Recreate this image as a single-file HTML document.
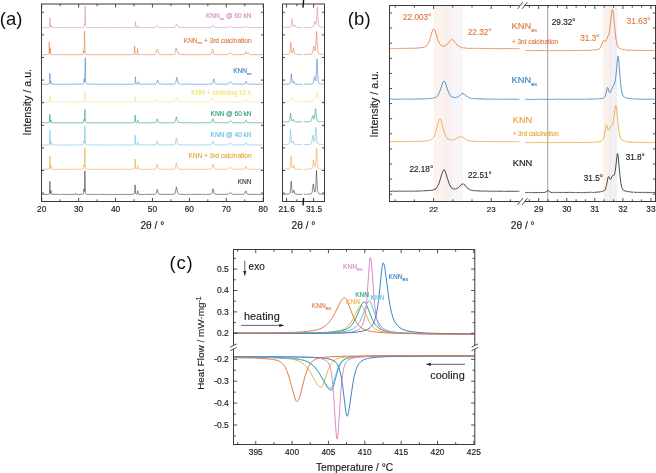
<!DOCTYPE html>
<html><head><meta charset="utf-8"><style>
html,body{margin:0;padding:0;background:#fff;}
svg{display:block;will-change:transform;}
text{font-family:"Liberation Sans",sans-serif;stroke:currentColor;stroke-width:0.15px;}
</style></head><body>
<svg width="656" height="473" viewBox="0 0 656 473" font-family="Liberation Sans, sans-serif">
<rect width="656" height="473" fill="#fff"/>
<polyline fill="none" stroke="#d98cc4" stroke-width="0.6" stroke-linejoin="round" points="41.9,27.6 44.8,27.7 47.3,27.5 47.5,27.6 48.9,27.5 49.4,27 49.6,25.4 50,17.9 50.3,26.2 50.5,27 50.7,26.8 51.1,25.1 51.4,27.2 51.9,27.5 55.8,27.7 56.8,27.5 60.3,27.7 64.5,27.5 65.5,27.7 67.8,27.5 67.9,27.7 69,27.6 69.6,27.7 69.8,27.5 71.9,27.6 72,27.5 72.6,27.7 73.7,27.5 74,27.7 74.1,27.5 76.9,27.7 79.8,27.5 80.1,27.6 83.2,27.4 83.6,27.2 83.9,26.7 84.3,24 84.5,25 84.7,24.1 85.2,6 85.7,25.7 86.1,26.8 87.2,27.5 93.1,27.7 96.6,27.5 96.7,27.7 97,27.6 98,27.7 99,27.5 101.6,27.7 105.1,27.6 105.3,27.7 106.2,27.5 109.2,27.7 109.9,27.6 110,27.7 111.3,27.5 118.5,27.7 118.9,27.5 121.8,27.7 122.3,27.5 123.1,27.7 124.4,27.5 127.4,27.5 127.5,27.7 128,27.5 128.8,27.7 129.5,27.5 130.4,27.7 132.1,27.5 132.5,27.6 133.6,27.4 134.1,27.6 134.8,27.4 135.1,26.7 135.6,21.6 136,26.7 136.2,27.3 137,27.5 137.9,27.3 138.3,25.6 138.8,27.3 139.6,27.6 141.4,27.6 141.7,27.5 143.7,27.7 147.8,27.5 149.5,27.7 155.3,27.5 156.1,27.1 157.3,25.5 158.5,27.2 159.8,27.6 160.3,27.4 161.2,27.6 161.3,27.5 161.4,27.6 163.5,27.5 163.6,27.6 163.8,27.5 164.9,27.6 167.1,27.5 167.4,27.7 168.7,27.5 169.4,27.6 169.9,27.5 170,27.6 173.1,27.6 174.8,27.3 175.2,27 176.6,24.1 176.8,24.2 178,26.9 178.8,27.4 180,27.4 180.2,27.6 182.6,27.4 182.8,27.6 186.3,27.5 187.7,27.7 188.1,27.5 189,27.7 189.2,27.5 191.3,27.7 191.8,27.5 192,27.7 192.5,27.5 194.4,27.7 194.7,27.5 194.8,27.7 194.9,27.5 195.1,27.6 195.9,27.7 196,27.5 197.2,27.7 197.8,27.5 201,27.7 202.8,27.5 203,27.7 203.1,27.5 203.8,27.6 204.5,27.5 204.8,27.7 206.7,27.5 207.1,27.6 208.9,27.4 209,27.6 210.6,27.5 210.7,27.4 211.4,27.4 211.7,27.2 211.8,27.3 212.3,26.8 213.3,25.1 213.5,25.2 214.4,26.9 215,27.3 216.9,27.6 217.8,27.5 218.6,27.6 220.7,27.5 220.9,27.7 222.2,27.5 225.6,27.6 228.1,27.5 228.7,27.4 229.8,26.5 230.5,26.3 231.6,27.1 232.8,27.6 243.6,27.5 244.6,27.4 245.8,26.1 246.1,26.2 247,27.2 248.9,27.6 249.2,27.5 250.6,27.7 254,27.5 262.3,27.6 262.6,27.5 262.9,27.6" />
<text x="251.5" y="18.2" font-size="6.5" fill="#d98cc4" color="#d98cc4" text-anchor="end" >KNN<tspan font-size="4.4" dy="1.8">ex</tspan><tspan dy="-1.8"> @ 60 kN</tspan></text>
<polyline fill="none" stroke="#e07f45" stroke-width="0.6" stroke-linejoin="round" points="41.9,54.7 47.1,54.7 48.3,54.5 48.8,54 49,52.5 49.3,42 49.6,53.2 49.9,53.8 50.1,52.9 50.4,47.9 50.7,53.6 51,54.3 51.4,54.6 52.2,54.7 52.3,54.6 52.5,54.7 52.8,54.6 54.3,54.7 56.1,54.6 56.3,54.8 56.7,54.6 58.7,54.7 59.7,54.6 59.8,54.8 59.9,54.6 60.4,54.8 62.4,54.6 64.5,54.8 64.7,54.6 64.8,54.7 65.6,54.6 65.7,54.8 66.7,54.8 66.9,54.6 68,54.8 68.6,54.6 71.2,54.8 71.6,54.6 74.1,54.8 75.1,54.6 76.7,54.8 77.1,54.6 81.3,54.7 81.6,54.5 82.1,54.7 82.8,54.3 83,53.8 83.4,50.2 83.7,52.8 83.9,52.9 84,52.7 84.1,51.8 84.5,31.1 85,52 85.4,54 85.7,54.4 86.5,54.6 88.2,54.7 88.4,54.6 88.8,54.8 89.2,54.6 91.7,54.8 92.8,54.6 94.6,54.8 96.9,54.6 97.1,54.8 97.3,54.6 98,54.8 98.4,54.6 98.6,54.8 99.7,54.6 100.6,54.8 100.7,54.6 101.1,54.8 105.5,54.6 106.1,54.8 106.7,54.6 111.9,54.8 112.2,54.6 112.8,54.8 112.9,54.6 113.8,54.8 115.5,54.6 116.2,54.8 117,54.6 118.2,54.8 119.1,54.8 119.2,54.6 119.7,54.8 121.3,54.6 125.7,54.8 131.7,54.6 131.9,54.8 133.1,54.5 133.5,54.6 133.9,54.3 134.3,53.6 134.7,45.9 135.2,53.7 135.5,54.3 136.2,54.5 136.7,54.4 137,54 137.5,48.7 137.9,53.7 138.1,54.4 138.7,54.6 140.7,54.7 140.9,54.6 141,54.8 141.4,54.6 141.6,54.8 141.7,54.6 143.4,54.7 145.2,54.6 147.1,54.8 150.2,54.6 150.9,54.7 154.7,54.5 155.6,54 156,53.2 157,49.1 157.4,50.1 157.8,50.5 158.2,51.2 158.8,53.5 159.2,54.1 159.6,54.4 161.7,54.6 162.5,54.5 162.9,54.7 163.3,54.6 163.8,54.7 166.3,54.6 166.6,54.7 167.7,54.6 168.3,54.7 172.9,54.6 174.2,54.3 174.9,53.6 176.1,47.9 176.9,51.1 177.1,51.2 177.4,51 177.7,51.2 178.7,54 179.3,54.4 180.4,54.6 190.3,54.8 190.4,54.6 193.3,54.7 194.1,54.6 196.6,54.8 199.9,54.6 200,54.8 200.7,54.6 201.4,54.8 201.5,54.6 202.3,54.6 202.4,54.8 202.6,54.6 206.9,54.7 210.2,54.5 211.2,54 211.7,53.2 212.4,49.8 212.7,49.4 213.9,53.8 214.3,54.3 215.5,54.6 217.4,54.7 217.6,54.5 217.9,54.7 218.6,54.5 218.9,54.7 221.1,54.6 221.2,54.8 222.1,54.6 222.4,54.7 224.3,54.6 224.4,54.8 224.5,54.6 225.8,54.5 226.9,54.6 228.2,54.4 229.9,52.7 230.4,52.9 231.6,54.2 232.8,54.6 234.4,54.7 235.4,54.6 235.5,54.7 236.4,54.6 236.7,54.8 237.4,54.6 238.7,54.6 238.9,54.8 239.2,54.6 243.4,54.6 244.6,54.2 245.9,51.6 246.8,53.6 247.1,54 247.4,54 248.4,52.6 249.5,54.2 250.5,54.6 256.3,54.8 256.4,54.6 257,54.8 257.2,54.6 258.8,54.8 259,54.7 262.9,54.6" />
<text x="251.5" y="42.5" font-size="6.5" fill="#e07f45" color="#e07f45" text-anchor="end" >KNN<tspan font-size="4.4" dy="1.8">ex</tspan><tspan dy="-1.8"> + 3rd calcination</tspan></text>
<polyline fill="none" stroke="#3f86c6" stroke-width="0.6" stroke-linejoin="round" points="41.9,84.2 48.1,84.2 49.2,83.8 49.5,82.3 49.9,73.3 50.2,83 50.4,83.6 50.6,83.3 51,81.3 51.3,83.8 51.7,84.1 56.3,84.3 56.9,84.1 57.3,84.3 57.9,84.1 58.1,84.3 59.7,84.2 59.8,84.3 61,84.1 61.2,84.3 61.4,84.1 67.2,84.3 67.5,84.1 68.4,84.3 68.8,84.2 71.5,84.1 79.7,84.2 82.8,84.1 83.3,83.9 83.6,83.5 83.7,83.1 84.2,78.8 84.5,82 84.6,82.1 84.7,81.6 85.3,57.9 85.7,81.6 86.2,83.5 87.2,84.1 89.1,84.2 89.4,84.1 89.7,84.2 92.5,84.1 93.1,84.3 93.9,84.1 94.3,84.3 97.3,84.2 97.4,84.3 97.6,84.1 98.8,84.3 99.1,84.1 99.7,84.3 100,84.1 100.4,84.3 101.7,84.1 102.1,84.3 102.4,84.2 103.9,84.3 104.7,84.1 104.9,84.3 105.5,84.1 105.8,84.3 107.3,84.1 108.3,84.3 108.7,84.1 109.4,84.3 111.1,84.1 111.2,84.3 111.4,84.1 111.7,84.3 115,84.2 115.3,84 115.9,84.3 119.3,84.1 121.4,84.3 127.7,84.1 127.8,84.3 130,84.1 130.2,84.3 130.7,84.1 132,84.1 132.3,84.3 133.5,84.1 133.6,84.2 134.7,83.9 135,83.1 135.5,76.8 136,83.6 136.6,84 137,84 137.5,84.2 138,83.7 138.5,81.7 138.9,83.9 139.8,84.2 140.2,84 140.5,84.2 141.7,84.2 141.8,84.3 142.8,84.1 143.3,84.3 145.2,84.1 147.3,84.3 148,84.1 148.3,84.3 148.4,84.1 149.2,84.1 149.4,84.3 149.9,84.1 152.9,84.2 155.6,84 156.5,83.4 157.6,80.2 158.6,83.2 158.9,83.7 159.6,84 163.5,84.1 163.6,84.3 164.2,84.1 166.7,84.3 166.8,84.1 167,84.3 167.8,84.1 168.7,84.2 173.8,84.1 174.9,83.8 175.7,82.7 176.8,77.2 178.1,83.1 178.4,83.6 179.2,84 179.9,83.9 180.3,84.1 180.9,84 181.1,84.2 184.3,84.1 184.4,84.2 186.9,84.1 188.7,84.2 189.3,84.1 190.3,84.3 190.6,84.1 192.8,84.3 194.1,84.1 194.3,84.3 194.8,84.1 195.2,84.3 196.7,84.1 199.1,84.3 199.3,84.1 200.9,84.3 201.3,84.1 203.6,84.3 204.8,84.1 204.9,84.3 206.2,84.1 207.6,84.3 207.8,84.1 208.5,84.2 209,84.1 209.3,84.2 209.9,84 210.1,84.1 210.9,84.1 212,83.8 212.6,83.2 213.8,78.8 214.5,82.2 215,83.3 215.5,83.8 216.4,84.1 216.5,84 219,84.2 219.1,84 220.6,84.2 223.6,84.1 224.4,84.2 227.7,84 228.9,83.4 229.9,82 230.4,81.7 230.7,81.9 231.8,83.5 232.9,84 238.6,84.2 239.7,84.1 242.5,84.2 242.7,84.1 244.1,84.1 244.8,83.9 245.2,83.4 246.2,81.2 247.1,83.3 247.5,83.8 248.3,84.1 250.6,84.1 250.8,84.3 251.1,84.1 251.6,84.2 252.3,84.1 252.4,84.2 253.4,84.3 254.1,84.1 255.9,84.3 259.3,84.1 259.8,84.3 261.1,84.2 261.3,84.3 261.8,84.1 262.9,84.2" />
<text x="251.5" y="73.2" font-size="6.5" fill="#3f86c6" color="#3f86c6" text-anchor="end" >KNN<tspan font-size="4.4" dy="1.8">ex</tspan></text>
<polyline fill="none" stroke="#f3e27a" stroke-width="0.6" stroke-linejoin="round" points="41.9,102 48,102 49,101.8 49.4,100.6 49.9,96.4 50.4,101.3 50.7,101.8 51.6,102 53.4,101.9 53.5,102 55.2,101.9 55.7,102.1 56.6,101.9 58.7,102.1 59.3,101.9 59.8,102 59.9,101.9 60,102 61,101.9 63.4,102.1 64.9,101.9 68.8,102.1 69.6,102.1 69.7,101.9 70.9,102.1 71.6,101.9 72.9,102.1 73,101.9 74.3,102.1 75.1,101.9 75.2,102.1 83.2,101.9 84,101.3 84.3,100 84.9,91.7 85.4,99.3 85.7,101.2 86.2,101.7 86.8,101.9 88.3,102 99.7,101.9 100.8,102.1 102.1,101.9 102.9,102.1 105.3,102 107,102.1 108.9,101.9 109,102 111.2,101.9 111.4,102.1 111.9,101.9 113.5,102.1 119.1,101.9 119.2,102.1 119.7,101.8 120.8,102.1 123.2,102 123.4,101.9 123.5,102.1 123.8,102 124.1,102.1 124.2,101.9 126.7,101.9 126.8,102.1 126.9,101.9 129,102.1 133.3,101.9 134.3,101.6 134.5,101.1 135.1,96.6 135.8,101.3 136.2,101.8 137.9,102 138,101.9 138.3,102 142.3,102.1 144.8,101.9 146.1,102.1 147.2,101.9 148,102 149.5,101.9 149.9,102 153.9,101.9 155.2,101.4 156.8,98.9 158.5,101.3 159.9,101.8 162.4,102 162.9,101.9 164,102 165.5,101.9 165.6,102 166,101.9 167,102 172.6,101.8 173.8,101.7 174.6,101.2 175.3,99.9 176.2,97.4 176.6,97.2 177.7,100.1 178.4,101.3 179.7,101.8 182.5,102 182.8,101.9 184.8,102.1 185.4,101.9 187.1,102 187.6,101.9 188.4,102.1 189.7,101.9 190.8,102 192,101.9 192.2,102.1 193.4,101.9 195.2,102.1 195.4,101.9 197.5,102.1 197.8,101.9 199.1,102.1 199.6,101.9 203,102 203.6,101.9 205.5,102 209.8,101.8 210.7,101.6 211.3,101.1 212.6,98.5 213,98 213.2,98.1 214.1,100.2 214.8,101.2 215.8,101.8 217.1,101.9 219.7,101.9 220.5,102 221.3,101.9 222.7,102 222.9,101.9 224,102 224.1,101.9 228.1,101.9 228.9,101.7 230.4,100.9 231.4,101.5 232.6,101.9 242.9,101.9 244.2,101.6 245.8,99.9 246.1,100 247.5,101.6 248.1,101.8 250.1,101.9 250.2,102 250.5,101.9 250.6,102 252.2,101.9 252.4,102.1 253.1,101.9 256.1,102.1 257.1,101.9 262.9,101.9" />
<text x="251.5" y="95.3" font-size="6.5" fill="#f3e27a" color="#f3e27a" text-anchor="end" >KNN + sintering 10 h</text>
<polyline fill="none" stroke="#2e9c78" stroke-width="0.6" stroke-linejoin="round" points="41.9,122.8 43.9,122.7 44,122.9 44.4,122.7 44.5,122.9 45.9,122.7 46.8,122.9 47.9,122.7 48.2,122.8 49.1,122.5 49.4,121.8 49.5,120.8 49.9,114.2 50.2,121.5 50.3,122 50.5,122.1 50.6,121.9 51,119.8 51.3,122.3 51.5,122.6 51.9,122.7 59.4,122.8 59.6,122.7 60.9,122.9 61.4,122.7 64.8,122.9 66.2,122.7 66.9,122.9 67.8,122.7 68.7,122.9 70.1,122.7 70.2,122.9 73.2,122.7 74.1,122.9 75.4,122.7 75.7,122.9 77.3,122.9 77.4,122.7 78,122.8 80.8,122.7 80.9,122.9 83.1,122.6 83.5,122.2 84,119.3 84.2,120.6 84.3,120.9 84.4,120.8 84.9,109.5 85.3,120.4 85.5,121.8 85.6,122.1 86.2,122.6 88.3,122.9 88.5,122.7 88.6,122.9 88.7,122.7 90.5,122.9 90.9,122.7 91.4,122.9 93.6,122.7 93.8,122.8 98,122.7 100.5,122.9 101.5,122.7 102.7,122.9 104.8,122.8 104.9,122.9 105.1,122.7 105.7,122.9 106.7,122.8 106.9,122.7 107.9,122.7 108,122.9 109.9,122.8 110.3,122.9 111,122.7 112.4,122.9 113.8,122.7 114,122.9 116.2,122.7 118.7,122.9 119.1,122.7 119.9,122.9 120.3,122.8 124.5,122.8 124.6,122.7 125.1,122.9 125.3,122.7 125.4,122.9 126.3,122.8 126.5,122.7 126.9,122.8 129.8,122.7 130,122.8 131.5,122.8 131.7,122.9 132.5,122.7 134,122.7 134.6,122 134.7,121.4 135.1,115 135.6,121.9 136,122.5 136.6,122.7 137,122.6 137.2,122.3 137.7,120.2 138.1,122.4 138.5,122.7 139.8,122.9 140.2,122.7 143,122.8 143.1,122.7 144.7,122.9 146.3,122.7 146.4,122.9 147.7,122.7 147.8,122.9 149.4,122.7 150.3,122.9 150.4,122.7 155,122.7 156.1,122.2 157.3,118.8 158.4,122.2 159.4,122.6 160.7,122.8 161.1,122.6 161.6,122.8 162.6,122.8 162.7,122.7 168.5,122.9 169.7,122.7 171.4,122.8 174,122.6 174.6,122.4 175.2,121.8 176.4,116.8 177.2,120.3 177.8,121.9 178.7,122.5 180.8,122.6 180.9,122.8 181.4,122.7 182,122.7 182.1,122.8 185.6,122.7 187.3,122.9 187.4,122.7 188.1,122.9 189.1,122.7 190.7,122.8 192.8,122.7 193.4,122.9 193.8,122.7 194.7,122.9 195.8,122.7 196.7,122.9 196.8,122.7 197.7,122.9 197.9,122.7 199.3,122.9 202.3,122.7 202.5,122.9 203.8,122.7 205.1,122.7 205.4,122.9 206.3,122.7 208,122.7 208.1,122.8 208.3,122.7 208.5,122.8 210.9,122.6 211.9,122 212.9,118.8 213.2,119.1 214.1,121.9 214.5,122.4 215.3,122.5 215.4,122.7 218.8,122.7 219,122.8 220.3,122.7 220.4,122.8 221.4,122.8 222.7,122.7 223.2,122.8 223.7,122.7 224,122.8 227.2,122.7 228.8,122.3 230.2,120.8 230.6,120.8 232,122.4 233.1,122.7 243.4,122.8 244.3,122.6 244.8,122.2 245.7,120.4 245.9,120.3 247.2,122.6 247.4,122.5 248.4,122.8 249.9,122.7 251,122.9 251.3,122.7 251.9,122.8 252.2,122.7 252.4,122.9 252.9,122.6 253.6,122.9 253.7,122.7 256.4,122.7 256.5,122.8 257,122.7 257.2,122.9 257.3,122.8 257.8,122.9 258.8,122.7 259.1,122.9 259.2,122.7 259.8,122.9 260.1,122.7 261.2,122.9 261.3,122.7 261.4,122.9 262.9,122.8" />
<text x="251.5" y="116.1" font-size="6.5" fill="#2e9c78" color="#2e9c78" text-anchor="end" >KNN @ 60 kN</text>
<polyline fill="none" stroke="#6cc0e8" stroke-width="0.6" stroke-linejoin="round" points="41.9,145 48,145 48.8,144.9 49.2,144.5 49.5,142.5 49.9,130.1 50.2,143.3 50.4,144.2 50.6,143.8 51,141 51.2,143.8 51.6,144.8 52.5,145 55.8,144.9 56.3,145.1 56.7,144.9 61.5,145.1 62.6,144.9 62.7,145.1 64.6,144.9 65.7,145.1 68.2,144.9 69.1,145.1 72.5,144.9 72.9,145.1 73.3,144.9 73.6,145.1 78.7,144.9 79.3,145 80.5,144.9 80.6,145 82,145 82.1,144.8 82.5,144.9 83.1,144.7 83.4,144.4 83.6,143.6 84,140.5 84.3,142.8 84.5,141.4 84.9,126 85.4,143.4 85.6,144.2 86,144.6 87.3,144.9 88.5,145 88.7,144.8 89.3,145 89.6,144.9 90.1,145.1 90.5,144.9 93.8,145.1 94.3,144.9 94.7,145.1 95.5,144.9 96.5,145 96.6,144.8 97.6,145.1 98.7,144.9 101.2,145.1 101.7,144.9 104.1,145.1 104.2,144.9 104.7,145.1 104.9,144.9 106.3,145.1 106.9,144.9 107.4,145.1 111,144.9 111.2,145.1 113.4,144.9 114.2,145 114.6,144.9 115.1,145.1 115.8,144.9 116.1,145.1 117.3,145 117.5,144.9 118.6,145.1 119.9,144.9 120.4,145.1 121.7,144.9 130.3,145.1 133.7,144.9 134.4,144.5 134.7,143.3 135.1,135.4 135.6,143.8 135.7,144.4 136,144.7 136.5,144.8 137,144.7 137.2,144.5 137.7,142 138.1,144.5 138.2,144.7 138.7,144.9 140.7,145.1 140.8,144.9 142.4,145 146.9,144.9 147.5,145.1 148.8,144.9 149.4,145.1 149.8,144.9 150.1,145 152.2,144.9 152.6,145 155.4,144.8 156.1,144.4 156.4,143.8 157.3,140.9 158.3,144.1 158.6,144.6 159.4,144.9 162,145 164.8,144.9 165,145 167.3,144.9 167.6,145.1 167.9,144.9 168.7,145.1 169,144.9 170.1,145 170.2,144.8 171.4,145 173,144.9 174.7,144.5 175.2,143.8 176.4,138.1 176.7,138.6 177.3,142.7 177.8,144 178.4,144.6 180.3,144.9 185.3,145 185.5,144.9 186.2,145 187.2,144.9 188,145.1 188.1,144.9 189.4,145.1 190,144.9 193.5,145.1 195.6,144.9 195.8,145.1 196.7,144.9 200.9,145 202.5,144.9 203.6,145.1 203.9,144.9 205.5,145.1 205.6,144.9 205.9,145 210.7,144.9 211.6,144.5 211.9,144.1 213,141 214.1,144.1 214.7,144.7 215.9,144.9 216.1,144.8 217,145 217.6,144.9 217.9,145 219.9,145 220,144.9 220.1,145 221.2,144.9 221.7,145 224.5,144.9 224.7,145 227.5,144.9 227.6,144.8 228.5,144.7 230.3,143 230.9,143.4 231.6,144.3 232.7,144.8 237.8,145 238.8,144.9 238.9,145 239.6,145.1 239.9,144.9 241.2,145.1 241.3,144.9 242.1,144.9 242.3,145 242.6,144.9 243.1,145 243.2,144.9 244.1,144.8 244.7,144.6 245.7,142.6 245.9,142.5 247,144.5 247.3,144.7 248.2,144.9 262.9,145" />
<text x="251.5" y="136.60000000000002" font-size="6.5" fill="#6cc0e8" color="#6cc0e8" text-anchor="end" >KNN @ 40 kN</text>
<polyline fill="none" stroke="#eaa83a" stroke-width="0.6" stroke-linejoin="round" points="41.9,169.3 43.9,169.3 44.3,169.2 46.1,169.4 46.2,169.2 48.4,169.2 49.1,169 49.4,168.2 49.5,167 49.9,156.3 50.2,167.8 50.4,168.6 50.5,168.5 51,165.3 51.3,168.7 51.7,169.2 54.4,169.2 54.6,169.4 57.5,169.2 57.6,169.4 57.8,169.2 59.2,169.4 59.5,169.2 62.9,169.4 65,169.2 65.5,169.4 65.6,169.2 65.9,169.4 66,169.2 71.3,169.4 72.3,169.2 73.7,169.3 73.9,169.2 74.4,169.4 74.6,169.2 76.4,169.4 78.5,169.2 80.8,169.3 83.1,169.1 83.4,168.8 83.6,168 84,164.7 84.3,166.8 84.4,166.6 84.9,147.8 85.3,166.2 85.7,168.6 86.1,169 86.8,169.2 88.8,169.3 90.6,169.2 90.8,169.4 95,169.2 95.6,169.4 95.8,169.2 96,169.3 98.8,169.2 100.1,169.4 102.1,169.3 102.5,169.2 103.9,169.4 105.5,169.2 110.4,169.4 112,169.2 113.3,169.4 113.7,169.2 115.9,169.4 123.2,169.2 123.5,169.4 124.3,169.2 124.4,169.4 124.5,169.3 124.7,169.4 125.1,169.2 127.8,169.3 129.5,169.2 130.4,169.3 134,169.1 134.6,168.3 134.7,167.5 135.1,159 135.6,167.9 135.8,168.7 136.5,169.1 136.9,169.1 137.2,168.7 137.7,165.8 138.1,168.8 139,169.3 140.9,169.2 143.2,169.4 147.5,169.2 148.8,169.4 149.4,169.2 150.6,169.4 151.2,169.2 151.4,169.3 153.1,169.3 154.8,169.1 155.8,168.8 156.1,168.4 157.3,164 158.3,168.2 158.6,168.7 159.2,169 163.3,169.3 166.4,169.3 166.9,169.2 168.1,169.3 168.6,169.2 171.1,169.3 173.8,169.1 174.8,168.7 175.2,168.1 176.4,162.7 177.6,167.9 178.2,168.8 179.5,169.2 184.4,169.4 184.5,169.2 185.4,169.3 189,169.2 190.4,169.2 190.5,169.4 190.8,169.2 192.7,169.4 194.4,169.2 194.8,169.3 195.7,169.2 195.9,169.4 200,169.2 201,169.4 201.3,169.2 202.1,169.4 202.3,169.2 202.9,169.4 205.4,169.2 205.6,169.4 209.3,169.2 209.6,169.1 210.2,169.2 211.3,168.8 211.9,168.2 213,164 214.1,168.1 214.9,169 215.5,169.1 219.3,169.4 219.6,169.2 219.7,169.3 221.2,169.2 221.7,169.4 222.2,169.2 227.6,169.2 228.6,168.9 230.4,167.2 231.9,168.8 233.5,169.2 243.1,169.2 244,169.1 244.7,168.7 245.7,166.5 245.9,166.3 246.9,168.6 248,169.2 262.9,169.3" />
<text x="251.5" y="157.9" font-size="6.5" fill="#eaa83a" color="#eaa83a" text-anchor="end" >KNN + 3rd calcination</text>
<polyline fill="none" stroke="#3c3c3c" stroke-width="0.6" stroke-linejoin="round" points="41.9,194.3 42.4,194.4 44.3,194.3 46.2,194.5 48.6,194.3 49.2,193.9 49.5,192.1 49.9,181.4 50.2,193 50.3,193.5 50.5,193.7 51,190.4 51.3,193.8 51.9,194.3 58.7,194.3 59.7,194.5 60.4,194.3 60.7,194.5 61.3,194.4 61.6,194.5 61.7,194.3 62.7,194.4 64.4,194.3 64.7,194.5 68.2,194.5 69,194.3 71.5,194.5 74.7,194.3 74.8,194.4 75.3,194.1 75.7,193.4 76,194.1 76.4,194.4 79.1,194.5 81.1,194.3 81.4,194.4 83.2,194 83.6,192.7 84,188.8 84.3,191.5 84.5,189.9 84.9,170.9 85.4,192.4 85.7,193.6 86.1,194 87,194.3 90.6,194.5 91.8,194.3 92.3,194.5 94,194.3 94.7,194.5 94.9,194.3 96.8,194.5 97,194.3 97.4,194.5 97.7,194.3 99.7,194.5 100.4,194.3 101.1,194.5 103.1,194.3 103.2,194.5 104.1,194.3 104.2,194.5 105.8,194.4 106.7,194.5 109.9,194.3 110.7,194.5 110.8,194.3 111.3,194.5 111.4,194.3 111.8,194.5 113.5,194.5 117.2,194.3 117.3,194.5 118,194.3 120.2,194.5 120.4,194.3 121.6,194.5 124,194.3 124.1,194.5 124.4,194.3 126.2,194.5 133.6,194.3 134.4,193.9 134.6,193.4 135.1,184.9 135.6,193.2 135.8,193.8 136.6,194.2 137,194.1 137.2,193.8 137.7,190.8 138.1,193.9 138.7,194.4 144.4,194.5 145.5,194.3 146.7,194.5 146.8,194.3 150.1,194.4 151.5,194.3 152.1,194.5 152.6,194.2 152.9,194.4 154.1,194.4 154.3,194.2 155.3,194.2 156.1,193.7 156.5,192.5 157.2,189.4 157.5,190 158.1,192.7 158.4,193.5 158.9,194.1 160.5,194.3 164.3,194.5 167.6,194.3 171.5,194.4 173.1,194.1 173.2,194.3 174.7,193.8 175.2,193 176.4,186.9 177.7,193.1 178.4,194 178.6,193.9 179.3,194.3 179.5,194.1 180.2,194.3 180.5,194.2 180.8,194.3 185.7,194.5 185.9,194.3 186.5,194.4 186.6,194.3 186.7,194.4 187.2,194.3 187.3,194.5 188.5,194.3 189,194.5 189.4,194.3 189.5,194.4 190.2,194.3 190.3,194.5 191.1,194.3 191.3,194.4 192.8,194.3 195.1,194.4 195.3,194.3 201.4,194.5 202.6,194.3 204,194.5 204.7,194.3 206.3,194.5 206.5,194.3 206.9,194.4 210.7,194.2 211.3,194 211.8,193.4 213,188.7 214.2,193.4 214.8,194 216.5,194.3 218.3,194.3 220.3,194.4 220.5,194.2 220.6,194.4 221.6,194.4 227.9,194.2 228.7,193.9 230.3,192.3 231.7,193.7 232.6,194.2 233.9,194.4 234.4,194.2 234.6,194.4 234.7,194.3 236.5,194.4 237,194.3 238,194.4 238.4,194.2 238.5,194.4 238.7,194.3 239.8,194.5 240.6,194.2 240.9,194.4 243.3,194.3 244.1,194.1 244.7,193.7 245.7,191.1 245.9,190.9 247,193.7 248.1,194.3 248.3,194.2 249.5,194.4 249.7,194.2 249.8,194.4 250.4,194.4 257.6,194.3 257.7,194.5 258.5,194.3 258.7,194.5 259.3,194.3 259.5,194.5 260.6,194.3 260.7,194.5 261.1,194.4 262.9,194.4" />
<text x="251.5" y="184.20000000000002" font-size="6.5" fill="#3c3c3c" color="#3c3c3c" text-anchor="end" >KNN</text>
<rect x="41.5" y="4.0" width="222.0" height="197.5" fill="none" stroke="#3a3a3a" stroke-width="1"/>
<line x1="41.70" y1="201.5" x2="41.70" y2="197.9" stroke="#3a3a3a" stroke-width="0.9"/>
<line x1="41.70" y1="4.0" x2="41.70" y2="7.6" stroke="#3a3a3a" stroke-width="0.9"/>
<text x="41.70" y="212.4" font-size="8.3" fill="#1a1a1a" color="#1a1a1a" text-anchor="middle" >20</text>
<line x1="60.16" y1="201.5" x2="60.16" y2="199.3" stroke="#3a3a3a" stroke-width="0.9"/>
<line x1="60.16" y1="4.0" x2="60.16" y2="6.2" stroke="#3a3a3a" stroke-width="0.9"/>
<line x1="78.62" y1="201.5" x2="78.62" y2="197.9" stroke="#3a3a3a" stroke-width="0.9"/>
<line x1="78.62" y1="4.0" x2="78.62" y2="7.6" stroke="#3a3a3a" stroke-width="0.9"/>
<text x="78.62" y="212.4" font-size="8.3" fill="#1a1a1a" color="#1a1a1a" text-anchor="middle" >30</text>
<line x1="97.08" y1="201.5" x2="97.08" y2="199.3" stroke="#3a3a3a" stroke-width="0.9"/>
<line x1="97.08" y1="4.0" x2="97.08" y2="6.2" stroke="#3a3a3a" stroke-width="0.9"/>
<line x1="115.53" y1="201.5" x2="115.53" y2="197.9" stroke="#3a3a3a" stroke-width="0.9"/>
<line x1="115.53" y1="4.0" x2="115.53" y2="7.6" stroke="#3a3a3a" stroke-width="0.9"/>
<text x="115.53" y="212.4" font-size="8.3" fill="#1a1a1a" color="#1a1a1a" text-anchor="middle" >40</text>
<line x1="133.99" y1="201.5" x2="133.99" y2="199.3" stroke="#3a3a3a" stroke-width="0.9"/>
<line x1="133.99" y1="4.0" x2="133.99" y2="6.2" stroke="#3a3a3a" stroke-width="0.9"/>
<line x1="152.45" y1="201.5" x2="152.45" y2="197.9" stroke="#3a3a3a" stroke-width="0.9"/>
<line x1="152.45" y1="4.0" x2="152.45" y2="7.6" stroke="#3a3a3a" stroke-width="0.9"/>
<text x="152.45" y="212.4" font-size="8.3" fill="#1a1a1a" color="#1a1a1a" text-anchor="middle" >50</text>
<line x1="170.91" y1="201.5" x2="170.91" y2="199.3" stroke="#3a3a3a" stroke-width="0.9"/>
<line x1="170.91" y1="4.0" x2="170.91" y2="6.2" stroke="#3a3a3a" stroke-width="0.9"/>
<line x1="189.37" y1="201.5" x2="189.37" y2="197.9" stroke="#3a3a3a" stroke-width="0.9"/>
<line x1="189.37" y1="4.0" x2="189.37" y2="7.6" stroke="#3a3a3a" stroke-width="0.9"/>
<text x="189.37" y="212.4" font-size="8.3" fill="#1a1a1a" color="#1a1a1a" text-anchor="middle" >60</text>
<line x1="207.82" y1="201.5" x2="207.82" y2="199.3" stroke="#3a3a3a" stroke-width="0.9"/>
<line x1="207.82" y1="4.0" x2="207.82" y2="6.2" stroke="#3a3a3a" stroke-width="0.9"/>
<line x1="226.28" y1="201.5" x2="226.28" y2="197.9" stroke="#3a3a3a" stroke-width="0.9"/>
<line x1="226.28" y1="4.0" x2="226.28" y2="7.6" stroke="#3a3a3a" stroke-width="0.9"/>
<text x="226.28" y="212.4" font-size="8.3" fill="#1a1a1a" color="#1a1a1a" text-anchor="middle" >70</text>
<line x1="244.74" y1="201.5" x2="244.74" y2="199.3" stroke="#3a3a3a" stroke-width="0.9"/>
<line x1="244.74" y1="4.0" x2="244.74" y2="6.2" stroke="#3a3a3a" stroke-width="0.9"/>
<line x1="263.20" y1="201.5" x2="263.20" y2="197.9" stroke="#3a3a3a" stroke-width="0.9"/>
<line x1="263.20" y1="4.0" x2="263.20" y2="7.6" stroke="#3a3a3a" stroke-width="0.9"/>
<text x="263.20" y="212.4" font-size="8.3" fill="#1a1a1a" color="#1a1a1a" text-anchor="middle" >80</text>
<line x1="41.5" y1="12.30" x2="44.1" y2="12.30" stroke="#3a3a3a" stroke-width="0.9"/>
<line x1="263.5" y1="12.30" x2="260.9" y2="12.30" stroke="#3a3a3a" stroke-width="0.9"/>
<line x1="41.5" y1="34.90" x2="44.1" y2="34.90" stroke="#3a3a3a" stroke-width="0.9"/>
<line x1="263.5" y1="34.90" x2="260.9" y2="34.90" stroke="#3a3a3a" stroke-width="0.9"/>
<line x1="41.5" y1="57.50" x2="44.1" y2="57.50" stroke="#3a3a3a" stroke-width="0.9"/>
<line x1="263.5" y1="57.50" x2="260.9" y2="57.50" stroke="#3a3a3a" stroke-width="0.9"/>
<line x1="41.5" y1="80.10" x2="44.1" y2="80.10" stroke="#3a3a3a" stroke-width="0.9"/>
<line x1="263.5" y1="80.10" x2="260.9" y2="80.10" stroke="#3a3a3a" stroke-width="0.9"/>
<line x1="41.5" y1="102.70" x2="44.1" y2="102.70" stroke="#3a3a3a" stroke-width="0.9"/>
<line x1="263.5" y1="102.70" x2="260.9" y2="102.70" stroke="#3a3a3a" stroke-width="0.9"/>
<line x1="41.5" y1="125.30" x2="44.1" y2="125.30" stroke="#3a3a3a" stroke-width="0.9"/>
<line x1="263.5" y1="125.30" x2="260.9" y2="125.30" stroke="#3a3a3a" stroke-width="0.9"/>
<line x1="41.5" y1="147.90" x2="44.1" y2="147.90" stroke="#3a3a3a" stroke-width="0.9"/>
<line x1="263.5" y1="147.90" x2="260.9" y2="147.90" stroke="#3a3a3a" stroke-width="0.9"/>
<line x1="41.5" y1="170.50" x2="44.1" y2="170.50" stroke="#3a3a3a" stroke-width="0.9"/>
<line x1="263.5" y1="170.50" x2="260.9" y2="170.50" stroke="#3a3a3a" stroke-width="0.9"/>
<line x1="41.5" y1="193.10" x2="44.1" y2="193.10" stroke="#3a3a3a" stroke-width="0.9"/>
<line x1="263.5" y1="193.10" x2="260.9" y2="193.10" stroke="#3a3a3a" stroke-width="0.9"/>
<text x="152.4" y="228.9" font-size="10.2" fill="#1a1a1a" color="#1a1a1a" text-anchor="middle" >2θ / °</text>
<text x="0" y="0" font-size="10.7" fill="#1a1a1a" color="#1a1a1a" text-anchor="middle" transform="translate(30.6,102.2) rotate(-90)">Intensity / a.u.</text>
<text x="-0.3" y="24.5" font-size="18.5" fill="#111" color="#111" text-anchor="start" letter-spacing="0.1" style="stroke:none">(a)</text>
<rect x="282.5" y="4.0" width="42.0" height="197.5" fill="none" stroke="#3a3a3a" stroke-width="1"/>
<polyline fill="none" stroke="#d98cc4" stroke-width="0.6" stroke-linejoin="round" points="283.1,27.4 288.9,27.4 289.1,27.3 289.7,27.4 290.7,26.9 291.3,25 291.9,18.8 292.1,18.8 292.7,24.8 292.9,25.9 293.3,26.8 293.9,26.2 294.5,24.5 294.7,24.5 294.9,24.9 295.5,26.8 296.3,27.4 296.9,27.2 297.3,27.5 297.5,27.4 299.3,27.6 299.5,27.4 299.7,27.5 299.9,27.4 300.7,27.5 301.1,27.4 302.3,27.6" />
<polyline fill="none" stroke="#d98cc4" stroke-width="0.6" stroke-linejoin="round" points="304.1,27.5 304.3,27.6 304.9,27.4 305.9,27.6 306.3,27.4 309.3,27.5 309.9,27.3 310.3,27.4 311.5,27.2 311.7,27.4 311.9,27.1 312.9,26.9 313.7,25.9 314.7,21 314.9,21 315.7,24.1 315.9,24.3 316.1,24 316.5,21 317.3,7.2 317.5,7.2 318.3,21.4 318.7,25 319.1,26.2 319.9,26.9 321.3,27.2 323.7,27.4" />
<polyline fill="none" stroke="#e07f45" stroke-width="0.6" stroke-linejoin="round" points="283.1,54.6 283.7,54.4 283.9,54.6 284.7,54.5 285.3,54.6 285.7,54.4 285.9,54.6 287.1,54.4 287.5,54.6 288.1,54.3 288.5,54.4 289.5,53.6 289.9,52.6 290.1,50.9 290.7,42.2 290.9,42.3 291.5,50.7 291.7,52.2 292.1,53.2 292.7,52.1 293.3,48.8 293.5,48.5 294.5,53 295.1,54.2 296.5,54.4 296.7,54.6 296.9,54.4 298.3,54.6 299.5,54.5 299.7,54.6 299.9,54.4 300.3,54.6 302.3,54.5" />
<polyline fill="none" stroke="#e07f45" stroke-width="0.6" stroke-linejoin="round" points="304.1,54.4 305.9,54.6 306.3,54.4 306.5,54.6 306.9,54.5 307.3,54.6 308.1,54.4 310.7,54.3 311.7,53.9 312.5,52.8 313.5,47 313.9,46 314.7,50.2 315.1,51 315.5,49.4 315.7,47.1 316.5,31.4 316.7,31.3 317.5,47.7 318.1,52.5 318.3,53 319.1,53.9 319.3,53.8 320.5,54.3 320.7,54.2 321.5,54.5 322.1,54.3 323.7,54.6" />
<polyline fill="none" stroke="#3f86c6" stroke-width="0.6" stroke-linejoin="round" points="283.1,84.2 283.9,84.3 284.3,84.2 285.7,84.1 286.5,84.3 288.1,84.1 288.7,84.2 289.9,83.7 290.3,82.9 290.5,81.9 291.3,73.6 292.1,81.8 292.3,82.8 292.7,83.3 293.1,82.9 293.7,81.2 293.9,81.2 294.5,83.1 295.1,84 295.9,84.2 298.3,84.2 298.5,84.4 298.9,84.1 299.3,84.3 302.3,84.3" />
<polyline fill="none" stroke="#3f86c6" stroke-width="0.6" stroke-linejoin="round" points="304.1,84.2 306.7,84.3 306.9,84.1 307.1,84.2 308.7,84.2 308.9,84.3 311.1,84 311.5,84.1 312.7,83.6 313.3,82.4 314.1,77.8 314.5,76.7 315.3,80.7 315.7,80.9 316.1,78 316.9,59 317.1,58.9 317.7,74.7 318.3,81.9 318.7,83 319.5,83.7 320.1,83.8 320.3,84 320.9,83.9 321.7,84.2 322.7,84.1 322.9,84.2 323.1,84.1 323.5,84.3 323.7,84.1" />
<polyline fill="none" stroke="#f3e27a" stroke-width="0.6" stroke-linejoin="round" points="283.1,101.4 283.3,101.5 286.3,101.4 286.9,101.5 289.9,101.2 290.3,100.9 290.7,100.1 291.7,96.7 292.7,100 293.1,100.7 293.7,100.6 294.1,100 294.5,99.9 295.5,101 296.5,101.4 297.5,101.4 297.7,101.5 297.9,101.4 302.3,101.5" />
<polyline fill="none" stroke="#f3e27a" stroke-width="0.6" stroke-linejoin="round" points="304.1,101.6 304.7,101.4 306.1,101.5 306.5,101.2 307.9,101.5 311.1,101.2 311.5,101.4 313.1,101 313.7,100.5 315.1,97.7 315.7,98.2 316.1,97.7 317.3,92.1 317.5,91.9 317.9,93 318.7,97.8 319.1,99.5 319.5,100.3 319.9,100.8 320.3,100.9 320.7,101.2 321.3,101.1 321.5,101.3 321.9,101.2 323.7,101.4" />
<polyline fill="none" stroke="#2e9c78" stroke-width="0.6" stroke-linejoin="round" points="283.1,121.9 287.3,121.8 288.9,121.4 289.3,120.9 289.7,119.4 290.5,113.2 291.3,119.3 291.9,121.1 292.3,120.8 293.1,119.3 293.3,119.4 294.1,121.1 294.9,121.8 296.1,121.7 296.7,121.9 300.1,121.8 301.1,122 301.3,121.8 302.3,121.9" />
<polyline fill="none" stroke="#2e9c78" stroke-width="0.6" stroke-linejoin="round" points="304.1,121.8 305.1,122 305.7,121.7 306.7,121.7 307.1,121.9 309.1,121.6 309.3,121.7 310.7,121.4 311.5,120.3 312.5,116.2 312.7,115.6 312.9,115.5 313.7,118.3 314.1,119.1 314.5,118.2 315.3,110.3 315.5,108.9 315.7,108.8 316.5,117.2 316.9,119.7 317.3,120.7 317.5,121.1 319.3,121.7 320.3,121.8 321.7,121.7 321.9,121.9 322.1,121.7 323.7,121.8" />
<polyline fill="none" stroke="#6cc0e8" stroke-width="0.6" stroke-linejoin="round" points="283.1,144.6 283.3,144.4 284.5,144.6 286.3,144.4 287.3,144.5 288.7,144.1 289.3,143.4 289.7,141.3 290.5,129.4 291.3,141.1 291.7,142.9 292.1,143 292.7,141.3 292.9,141 293.1,141 294.1,143.8 295.3,144.5 296.3,144.4 298.5,144.7 299.3,144.5 299.7,144.6 300.3,144.5 300.5,144.6 301.1,144.5 302.3,144.6" />
<polyline fill="none" stroke="#6cc0e8" stroke-width="0.6" stroke-linejoin="round" points="304.1,144.6 308.5,144.5 310.7,144.1 311.1,143.7 311.7,142.3 312.9,135.1 313.9,140.6 314.3,141.6 314.5,141.3 314.9,139 315.7,127.2 315.9,127.2 316.1,129.7 316.7,139.4 317.3,143 318.3,144.1 319.1,144.3 322.1,144.4 322.5,144.6 323.7,144.5" />
<polyline fill="none" stroke="#eaa83a" stroke-width="0.6" stroke-linejoin="round" points="283.1,169.3 284.5,169.3 284.7,169.1 285.3,169.3 285.7,169.2 285.9,169.4 286.1,169.2 287.9,169.2 289.1,169 289.9,168.4 290.3,167.1 290.5,165.4 291.1,156.3 291.3,156.3 291.9,165.2 292.1,167 292.5,168 292.7,168.1 293.1,167.5 293.5,165.7 293.7,165.2 293.9,165.2 294.7,168.3 295.3,169.1 298.3,169.3 299.1,169.1 299.3,169.3 300.1,169.3 300.3,169.1 301.3,169.3 302.3,169.2" />
<polyline fill="none" stroke="#eaa83a" stroke-width="0.6" stroke-linejoin="round" points="304.1,169.3 304.3,169.4 304.5,169.2 305.1,169.2 305.3,169.3 305.9,169.1 306.3,169.3 306.5,169.1 307.1,169.3 307.3,169.1 307.9,169.2 309.9,169.2 311.1,168.8 311.9,168.3 312.5,166.6 313.5,160 314.7,166.7 314.9,167.1 315.3,166.7 315.9,161.1 316.5,148.1 316.7,148.2 317.3,161.4 317.9,167.3 318.3,168.2 319.3,168.8 321.1,169.2 321.3,169 321.5,169.2 321.7,169 323.7,169.2" />
<polyline fill="none" stroke="#3c3c3c" stroke-width="0.6" stroke-linejoin="round" points="283.1,194.2 284.3,194.4 284.5,194.2 284.7,194.3 284.9,194.1 286.5,194.3 288.7,193.9 289.1,194 289.9,193.3 290.3,192.1 290.5,190.4 291.1,181.2 291.3,181.2 292.1,192.1 292.5,193 292.7,193.1 292.9,192.9 293.7,190.2 293.9,190.2 294.7,193.3 295.1,193.9 295.7,194.1 297.5,194.3 302.3,194.3" />
<polyline fill="none" stroke="#3c3c3c" stroke-width="0.6" stroke-linejoin="round" points="304.1,194.3 304.9,194.3 305.3,194.1 305.5,194.3 305.7,194.1 306.3,194.3 306.5,194.1 306.7,194.3 307.1,194.1 307.5,194.3 307.7,194.2 308.5,194.2 308.7,194 309.1,194.2 310.1,193.9 310.5,193.9 311.5,193.5 312.1,192.2 312.3,191.3 313.3,183.9 314.3,190.7 314.7,192 315.1,192 315.7,187.2 316.5,170.3 317.3,187.3 317.5,190.1 317.9,192.4 318.5,193.4 319.3,193.8 320.1,194.1 320.3,193.9 320.9,194 321.1,194.3 321.5,194.1 323.7,194.2" />
<line x1="286.6" y1="201.5" x2="286.6" y2="197.9" stroke="#3a3a3a" stroke-width="0.9"/>
<line x1="286.6" y1="4.0" x2="286.6" y2="7.6" stroke="#3a3a3a" stroke-width="0.9"/>
<line x1="296.8" y1="201.5" x2="296.8" y2="199.3" stroke="#3a3a3a" stroke-width="0.9"/>
<line x1="296.8" y1="4.0" x2="296.8" y2="6.2" stroke="#3a3a3a" stroke-width="0.9"/>
<line x1="313.6" y1="201.5" x2="313.6" y2="197.9" stroke="#3a3a3a" stroke-width="0.9"/>
<line x1="313.6" y1="4.0" x2="313.6" y2="7.6" stroke="#3a3a3a" stroke-width="0.9"/>
<line x1="282.5" y1="12.30" x2="285.1" y2="12.30" stroke="#3a3a3a" stroke-width="0.9"/>
<line x1="324.5" y1="12.30" x2="321.9" y2="12.30" stroke="#3a3a3a" stroke-width="0.9"/>
<line x1="282.5" y1="34.90" x2="285.1" y2="34.90" stroke="#3a3a3a" stroke-width="0.9"/>
<line x1="324.5" y1="34.90" x2="321.9" y2="34.90" stroke="#3a3a3a" stroke-width="0.9"/>
<line x1="282.5" y1="57.50" x2="285.1" y2="57.50" stroke="#3a3a3a" stroke-width="0.9"/>
<line x1="324.5" y1="57.50" x2="321.9" y2="57.50" stroke="#3a3a3a" stroke-width="0.9"/>
<line x1="282.5" y1="80.10" x2="285.1" y2="80.10" stroke="#3a3a3a" stroke-width="0.9"/>
<line x1="324.5" y1="80.10" x2="321.9" y2="80.10" stroke="#3a3a3a" stroke-width="0.9"/>
<line x1="282.5" y1="102.70" x2="285.1" y2="102.70" stroke="#3a3a3a" stroke-width="0.9"/>
<line x1="324.5" y1="102.70" x2="321.9" y2="102.70" stroke="#3a3a3a" stroke-width="0.9"/>
<line x1="282.5" y1="125.30" x2="285.1" y2="125.30" stroke="#3a3a3a" stroke-width="0.9"/>
<line x1="324.5" y1="125.30" x2="321.9" y2="125.30" stroke="#3a3a3a" stroke-width="0.9"/>
<line x1="282.5" y1="147.90" x2="285.1" y2="147.90" stroke="#3a3a3a" stroke-width="0.9"/>
<line x1="324.5" y1="147.90" x2="321.9" y2="147.90" stroke="#3a3a3a" stroke-width="0.9"/>
<line x1="282.5" y1="170.50" x2="285.1" y2="170.50" stroke="#3a3a3a" stroke-width="0.9"/>
<line x1="324.5" y1="170.50" x2="321.9" y2="170.50" stroke="#3a3a3a" stroke-width="0.9"/>
<line x1="282.5" y1="193.10" x2="285.1" y2="193.10" stroke="#3a3a3a" stroke-width="0.9"/>
<line x1="324.5" y1="193.10" x2="321.9" y2="193.10" stroke="#3a3a3a" stroke-width="0.9"/>
<line x1="303.0" y1="7.6" x2="303.6" y2="0" stroke="#111" stroke-width="1.4"/>
<line x1="303.0" y1="205.4" x2="303.6" y2="198" stroke="#111" stroke-width="1.4"/>
<text x="286.7" y="212.4" font-size="8.3" fill="#1a1a1a" color="#1a1a1a" text-anchor="middle" >21.6</text>
<text x="314.0" y="212.4" font-size="8.3" fill="#1a1a1a" color="#1a1a1a" text-anchor="middle" >31.5</text>
<text x="303.5" y="228.9" font-size="10.2" fill="#1a1a1a" color="#1a1a1a" text-anchor="middle" >2θ / °</text>
<rect x="433.77" y="5.5" width="10.20" height="196.0" fill="#fdf3ee" fill-opacity="1"/>
<rect x="443.97" y="5.5" width="8.06" height="196.0" fill="#f9efee" fill-opacity="1"/>
<rect x="452.03" y="5.5" width="10.94" height="196.0" fill="#f7f5fa" fill-opacity="1"/>
<rect x="603.26" y="5.5" width="5.61" height="196.0" fill="#fcf0ea" fill-opacity="1"/>
<rect x="608.88" y="5.5" width="3.65" height="196.0" fill="#f3ecec" fill-opacity="1"/>
<rect x="612.52" y="5.5" width="4.77" height="196.0" fill="#f2f0f5" fill-opacity="1"/>
<line x1="547.68" y1="5.5" x2="547.68" y2="201.5" stroke="#777" stroke-width="0.7"/>
<polyline fill="none" stroke="#e07f45" stroke-width="0.85" stroke-linejoin="round" points="390.1,48.5 391.3,48.6 391.7,48.3 392,48.6 392.4,48.4 393.1,48.6 393.6,48.4 393.8,48.7 394,48.6 394.3,48.8 394.7,48.7 395,48.5 395.2,48.7 395.4,48.4 395.9,48.5 396.1,48.8 396.6,48.5 397,48.7 397.7,48.6 397.9,48.3 398.2,48.6 398.6,48.3 398.9,48.5 399.6,48.4 399.8,48.6 400.2,48.3 400.5,48.7 400.7,48.3 401.2,48.5 401.4,48.2 401.9,48.6 402.3,48.4 403,48.4 403.5,48.2 403.7,48.5 404.4,48.4 404.6,48.6 405.5,48.2 405.8,48.6 406.2,48.3 406.5,48.7 407.2,48.2 407.9,48.4 408.3,48.1 408.5,48.4 409,48.3 409.7,48.5 410.4,48.1 411.3,48.3 411.5,48.1 412,48.2 412.2,48.4 412.5,48.2 412.9,48.5 413.8,47.9 414.1,48.3 415.5,48.1 415.9,48.3 416.4,48.1 416.6,48.2 416.8,48 417.1,48.2 417.3,47.9 418.2,48 418.5,48.3 418.9,47.9 419.1,48.2 419.4,47.8 419.6,48.1 419.8,47.8 420.1,48 420.3,47.7 420.8,48 421,47.6 422.1,47.7 422.4,47.4 422.6,47.6 423.5,47.5 423.8,47.1 424,47.2 424.2,47 424.7,47 426.1,46.3 426.5,45.5 426.7,45.6 427,45.4 427.4,44.4 427.7,44.5 428.4,43.3 430.2,38.3 432,31.9 433,29.5 433.4,29 433.9,29.1 434.1,28.9 435.3,31.1 437.8,39.6 439.2,43 439.4,43.1 440.6,45 440.8,45 441.3,45.6 441.5,45.5 442.6,46.2 443.1,46.1 443.3,46.2 444,45.8 444.3,46.2 444.5,45.8 445.2,45.9 445.6,45.3 446.3,45 446.6,44.6 447,44.7 447.3,44.3 447.7,44.1 448.2,43 448.6,42.8 449.1,41.9 450.2,40.6 450.9,40.2 451.2,39.9 451.4,39.9 451.6,39.6 451.9,39.9 452.3,39.8 452.6,40 452.8,39.7 453,39.9 453.2,40.4 453.7,40.7 453.9,41.4 454.2,41.2 454.9,42.3 456.2,43.7 456.9,45 457.2,44.8 458.5,46.2 459,46.5 459.2,46.4 460.2,47.2 460.4,47 461.3,47.6 461.8,47.5 462,47.7 462.7,47.8 462.9,48 463.1,47.9 463.4,48 463.6,47.8 463.8,48 464.3,47.8 464.5,48 465.5,48.2 465.9,47.8 466.1,48.1 466.6,48.3 466.8,48.1 467.1,48.3 467.3,48.3 467.5,48 467.8,48.3 468,48 468.4,48.2 468.9,48 469.1,48.3 469.6,48.4 470.1,48.1 470.5,48.4 471.2,48.3 472.8,48.3 473.3,48.1 474,48.6 474.2,48.3 474.4,48.6 474.9,48.3 475.6,48.6 476.5,48.1 477.2,48.6 477.4,48.4 477.9,48.6 478.1,48.4 478.4,48.6 478.6,48.3 479,48.3 479.3,48.5 479.5,48.4 480.7,48.6 480.9,48.3 481.1,48.5 481.6,48.3 481.8,48.7 483,48.3 483.4,48.6 484.1,48.4 484.3,48.7 484.6,48.3 485,48.3 485.7,48.6 486,48.1 486.2,48.5 486.4,48.3 486.6,48.6 486.9,48.5 487.1,48.7 487.6,48.4 487.8,48.7 488,48.3 488.5,48.6 489.2,48.5 490.3,48.7 490.8,48.4 491,48.7 491.3,48.5 491.7,48.6 491.9,48.4 492.2,48.6 492.4,48.3 492.6,48.6 492.9,48.5 493.3,48.6 493.6,48.4 494,48.4 494.5,48.7 495.2,48.4 495.9,48.8 496.1,48.4 496.6,48.8 497,48.4 497.2,48.7 497.9,48.7 498.2,48.5 498.6,48.6 498.9,48.5 500,48.8 500.2,48.3 500.5,48.6 501.4,48.5 501.6,48.3 502.1,48.8 502.5,48.7 503,48.4 503.5,48.7 503.9,48.3 504.2,48.9 504.4,48.5 504.6,48.7 504.9,48.4 505.1,48.7 505.3,48.6 505.5,48.8 506,48.4 506.9,48.8 507.4,48.6 508.1,48.7 509,48.3 509.5,48.7 510.4,48.6 510.6,48.7 510.8,48.5 512,48.7 512.7,48.5 513.1,48.7 513.4,48.5 513.6,48.7 514.1,48.6 514.3,48.8 514.5,48.5 515.7,48.7 516.4,48.5 516.6,48.7 516.8,48.5 517.5,48.6 517.8,48.5 518,48.8 518.2,48.5 519.4,48.6" />
<polyline fill="none" stroke="#e07f45" stroke-width="0.85" stroke-linejoin="round" points="525.2,50.5 525.7,50.6 525.9,50.8 526.1,50.5 526.6,50.4 527,50.8 527.2,50.4 527.7,50.9 527.9,50.5 528.1,50.8 528.4,50.8 528.8,50.4 529,50.6 529.5,50.3 530.4,50.8 530.8,50.5 531.5,50.4 531.7,50.7 532.6,50.4 533.1,50.6 533.3,50.5 533.8,50.8 534,50.5 534.4,50.5 534.7,50.8 534.9,50.6 535.6,50.9 536,50.4 536.5,50.7 536.9,50.5 537.1,51 537.4,50.6 538,50.3 539.1,50.6 539.8,50.3 540,50.6 540.7,50.4 540.9,50.6 541.2,50.4 541.4,50.7 542.3,50.4 542.5,50.8 543,50.5 543.4,50.8 543.6,50.4 544.3,50.6 544.5,50.4 544.8,50.6 545,50.4 545.2,50.7 545.7,50.5 545.9,50.7 546.1,50.5 546.6,50.7 547.2,50.4 547.7,50.6 548.1,50.2 548.6,50.6 549,50.3 549.5,50.7 549.9,50.5 550.4,50.8 550.8,50.5 551.1,50.7 551.7,50.5 552.8,50.7 553.1,50.4 553.5,50.7 554.2,50.5 554.4,50.8 554.9,50.6 555.1,50.2 555.5,50.6 556,50.3 556.2,50.6 556.7,50.4 557.3,50.6 557.6,50.3 558.2,50.4 558.5,50.8 558.7,50.5 559.4,50.4 559.8,50.8 560,50.5 560.3,50.6 560.9,50.6 561.2,50.9 561.4,50.4 561.6,50.5 562.1,50.3 562.5,50.8 563.4,50.5 563.6,50.8 563.9,50.5 564.1,50.7 564.3,50.5 565.6,50.8 566.1,50.3 566.3,50.2 567,50.6 567.2,50.3 567.4,50.5 568.8,50.7 569.2,50.2 569.5,50.5 570.1,50.4 570.4,50.7 570.8,50.4 571.3,50.5 571.5,50.3 571.7,50.6 572.2,50.6 572.4,50.3 572.6,50.8 573.7,50.3 574,50.7 574.2,50.4 574.6,50.6 574.9,50.4 575.3,50.8 575.5,50.5 575.8,50.7 576.7,50.2 577.1,50.7 577.8,50.6 578,50.4 578.4,50.7 578.7,50.4 579.8,50.4 580,50.3 580.7,50.4 580.9,50.6 581.6,50.4 581.8,50.6 582,50.2 582.7,50.6 582.9,50.4 583.8,50.5 584.1,50.3 584.3,50.5 585,50 585.2,50.5 585.6,50.5 585.9,50.2 586.1,50.5 587.2,50.4 587.4,50.6 588.1,50.3 588.6,50.5 589,50.2 589.7,50.4 589.9,50.1 590.3,50.4 590.8,50 591,50.2 591.2,50 591.5,50.2 591.7,50 591.9,50.2 592.4,49.8 592.8,50.2 593.5,49.9 593.9,50.2 594.8,49.7 595.3,49.8 595.5,50 596,49.5 596.6,49.7 596.9,49.4 597.1,49.7 597.8,49.3 598,49.4 599.1,49 599.6,48.4 599.8,48.5 600.9,46.7 602.7,41.7 602.9,41.6 603.1,40.9 603.6,40.6 604,40.9 604.5,40.9 605.4,41.4 606.7,39.2 608.3,35.5 609,33.3 609.9,28.3 611.9,11.4 612.1,10.4 612.6,9.6 613.3,12.9 615.1,31.9 616.2,40.4 617.3,45.4 618.4,47.4 619.3,48.3 620,48.4 620.2,48.7 621.3,48.9 621.6,49.2 622.5,49.5 622.7,49.3 622.9,49.5 624,49.7 624.3,49.4 624.5,49.7 624.7,49.5 625.2,49.9 625.6,49.8 626.3,50 626.5,50.2 626.7,50 627,50.3 627.2,49.9 627.4,50.1 628.1,50 628.3,50.3 629,50.4 629.4,49.9 629.6,50.3 629.9,50.1 630.1,50.4 630.3,50.1 630.8,50.2 631.2,50 631.9,50.4 632.1,50.2 632.8,50.3 633,50 633.2,50.6 633.7,50.2 634.6,50.5 635,50 635.5,50.5 636.2,50.2 636.4,50.5 637.1,50.3 638.2,50.7 638.4,50.3 638.6,50.5 639.1,50.1 639.5,50.6 640,50.3 640.2,50.5 640.7,50.4 640.9,50.7 641.1,50.2 641.3,50.8 641.8,50.5 642.7,50.5 642.9,50.3 643.1,50.8 643.3,50.5 644,50.4 644.2,50.6 644.7,50.4 645.1,50.6 645.4,50.2 645.6,50.1 645.8,50.7 646.3,50.1 646.9,50.5 647.6,50.6 647.8,50.4 648.5,50.7 649.4,50.4 650.8,50.5 651,50.4 651.2,50.7 651.4,50.3 651.9,50.6 652.6,50.5 652.8,50.6 653,50.4 653.5,50.8 653.7,50.6 653.9,50.8 654.3,50.4 654.8,50.7" />
<polyline fill="none" stroke="#3a86c8" stroke-width="0.85" stroke-linejoin="round" points="390.1,99.3 390.3,98.9 390.8,99.1 391.3,98.8 391.7,99.1 392.2,99.1 392.6,99.3 393.6,99.1 393.8,98.8 394,99.3 395,99 395.6,99.4 396.1,99.1 396.6,99.3 397.3,99.1 397.9,99.4 398.4,98.9 398.6,99.4 399.1,99.1 399.6,99.2 400.2,99.1 400.5,99.4 400.7,99.1 400.9,99.2 401.9,99 402.1,99.2 402.3,99 403,98.9 403.2,99.1 403.7,99 403.9,99.3 404.2,99.1 404.9,99.3 405.5,99 406.5,99.2 407.4,98.8 407.9,99.3 408.5,99.3 408.8,98.9 409.2,99.3 409.7,98.9 410.2,99.2 411.8,98.9 412.2,99.3 413.2,98.9 413.6,99.2 413.8,98.8 414.3,99 414.8,98.9 415.2,99.4 415.5,99.1 415.9,99.2 416.4,98.9 416.8,99.2 417.1,98.7 417.5,99.2 418,98.9 418.2,99.1 418.5,98.9 418.9,99.1 419.4,98.9 419.6,99.1 420.1,99 420.3,98.6 420.5,99.1 420.8,98.8 421.2,99 421.9,98.7 422.4,99 424,98.7 424.4,99.1 424.9,99 425.1,98.6 425.4,98.9 425.6,98.6 425.8,98.7 426.1,98.6 426.5,98.8 427.4,98.8 427.9,98.5 428.1,98.9 428.4,98.6 428.6,98.8 429,98.5 429.3,98.6 429.5,98.5 429.7,98.8 430,98.4 430.2,98.6 430.7,98.5 430.9,98.8 431.6,98.2 432.3,98.5 432.7,98 433.4,98.3 433.9,97.6 434.1,97.8 434.3,97.7 434.8,97.9 435,97.4 435.3,97.7 436,97 436.9,96.6 438.3,94.9 439.4,92 439.6,91.9 442.9,82.2 443.6,81.2 443.8,81.4 444.3,81.1 445.4,82.9 447.9,91 448.2,90.9 448.9,93.1 449.1,93.2 450,95.2 450.5,95.9 450.9,96.1 451.2,96.5 451.6,96.7 451.9,96.5 452.3,97.1 452.6,97 452.8,97.4 453.2,97.3 453.5,97.6 453.7,97.5 453.9,97.7 454.4,97.3 454.6,97.7 454.9,97.5 455.5,97.7 456,97.1 456.5,97.4 456.7,97.1 456.9,97.2 457.8,96.7 458.5,96.6 459.9,95.3 460.2,95.3 460.6,94.9 461.1,94.2 461.5,94.2 461.8,93.8 462,94.1 462.2,93.6 462.7,94.1 462.9,93.3 463.4,93.9 463.6,93.8 464.1,94 464.3,94.4 465.2,94.7 465.5,95 465.7,94.9 466.4,96.1 466.6,96.2 466.8,96 467.1,96.5 467.3,96.5 467.8,97.1 468.7,97.4 469.4,97.9 469.8,98 470.3,97.8 471.2,98.5 472.1,98.6 472.4,98.5 473.1,98.8 473.3,98.5 473.5,98.6 473.7,98.5 474.2,98.5 474.4,98.8 474.9,98.4 475.1,99 475.6,98.6 475.8,98.8 476.3,98.7 476.5,99 476.7,98.8 477,99 478.1,98.9 478.4,99.1 478.6,98.6 479.3,99 480,98.9 480.2,99.2 480.7,98.6 480.9,99.2 481.1,98.8 481.6,99 481.8,98.8 482,99.2 482.5,98.8 482.7,99 483.4,99.1 483.7,98.8 483.9,99.2 484.1,98.9 484.3,99.2 484.6,98.9 485,99.4 485.3,99 485.5,99.2 486,98.8 486.2,99.2 486.4,99.2 486.6,98.9 486.9,99 487.1,98.8 487.6,99.2 488,98.9 489.2,99.2 489.4,98.8 489.9,99.2 490.3,99 491,99.2 491.3,99.1 491.5,99.3 491.9,99 492.2,99.2 492.6,98.9 493.1,99.1 493.3,98.8 493.8,99.2 494,99 494.5,99.2 494.9,99.1 495.2,99.4 495.4,99.1 496.1,99.4 496.8,99.1 497,99.3 497.2,99 497.5,99.3 497.9,98.9 498.2,99.2 498.6,99 498.9,99.2 499.6,99 499.8,99.4 500,99.2 500.9,99.3 501.2,99.1 501.4,99.3 501.9,99.1 502.1,99.2 502.5,98.9 503,99.2 503.5,99.3 503.9,99 504.2,99.3 504.6,99 505.3,99.3 505.8,99.2 506,98.8 506.2,99.2 507.4,99.1 507.6,98.9 507.8,99.1 508.1,98.9 508.5,99.1 508.8,99.4 509,99.2 509.5,99.2 509.7,99.5 509.9,99 510.2,99.2 511.1,99.1 511.3,99.3 511.8,99.1 512.7,99.3 513.1,99 513.4,99.3 513.6,98.9 514.1,99.2 514.3,99 514.8,99.4 515.9,99.1 516.1,99.5 516.4,99.1 516.6,99.4 517.1,99.2 517.5,99.4 518.2,99.1 519.1,99.3 519.4,99.1" />
<polyline fill="none" stroke="#3a86c8" stroke-width="0.85" stroke-linejoin="round" points="525.2,99.6 525.5,99.1 525.9,99.4 526.3,99.1 527,99.3 527.5,99.1 527.7,99.3 527.9,99.1 528.6,99.4 529,99.2 529.3,99.5 529.5,99.2 529.9,99.2 530.2,99.6 530.6,99.2 530.8,99.4 531.1,99.3 531.3,99.6 531.5,99.2 531.7,99.4 532,99.2 532.2,99.5 532.4,99.2 533.3,99.4 533.5,99 533.8,99.4 534.4,99.4 534.9,99 535.3,99.5 535.6,99.1 536.2,99.1 536.5,99.4 536.7,99.3 537.1,99.5 537.4,99.1 537.6,99.4 537.8,99 538.3,99.4 538.7,99 539.1,99.4 539.6,99.1 539.8,99.3 540,99.4 540.3,99.1 540.7,99.4 541.8,99.1 542.3,99.5 542.7,99.2 543.2,99.1 543.6,99.4 543.9,99.1 544.3,99.6 544.5,99.1 545.2,99.5 546.1,99.2 546.3,99.6 546.6,99.2 546.8,99.4 547.2,99.2 547.7,99.5 547.9,99 548.1,99.4 548.8,99.1 549,99.3 549.3,99.1 549.5,99.4 549.7,99.1 549.9,99.4 550.4,99 550.8,99.3 551.1,99 551.5,99.4 551.7,99.2 551.9,99.4 552.2,99.1 552.6,99.3 553.1,99.2 553.5,99.4 553.7,99.2 554,99.6 554.2,99.3 554.9,99.2 555.1,99.4 555.3,99.2 556,99.5 556.4,99.2 556.7,99.4 557.6,99 558,99.4 558.2,99.1 558.7,99.1 558.9,99.3 559.1,99.1 560.7,99.1 560.9,99.3 561.2,99 561.4,99.3 561.6,99.1 562.1,99.3 562.3,99 562.7,99.4 563.2,99.3 563.4,99 564.1,99.4 564.7,99 565,99.3 565.2,99.2 565.6,99.4 566.1,99.3 566.3,99.6 566.5,99.2 567.2,99.4 567.4,99 567.7,99.2 568.1,99 568.3,99.3 568.6,99.1 568.8,99.3 569.7,99.1 570.8,99.4 571.9,99.3 572.2,99 572.8,99.2 573.1,98.9 573.5,99.2 574.2,99 574.4,99.2 574.6,98.9 574.9,99.3 575.1,99.1 575.3,99.4 575.5,99 575.8,99.3 576.4,99 576.7,99.4 576.9,99.3 577.1,99.4 577.3,99.2 578.4,99.3 578.9,99 579.1,99.5 579.3,99.2 579.8,99.1 580,99.3 580.5,99.3 580.7,99.1 581.4,99.1 581.8,99.4 582,99.1 582.5,99.2 582.9,99 583.2,99.3 583.6,99 584.1,99.3 584.7,99.2 585,99.4 585.2,99.2 585.6,99.3 585.9,99 586.1,99.2 586.8,99 587.4,99.2 587.7,98.9 588.1,99.3 589,98.9 589.9,99.3 590.3,99.1 590.6,98.7 591,99.4 591.5,99.1 591.7,99.2 592.4,99 592.8,99.2 593,98.9 593.7,99.2 594.2,98.9 594.4,99.2 594.8,98.9 595.5,99.1 595.7,98.8 596.4,99.2 597.1,98.6 597.3,98.8 597.5,98.7 597.8,98.9 598.4,98.8 598.7,99 599.1,98.6 599.3,98.9 599.8,98.7 600.2,99 600.5,98.5 600.9,98.6 601.1,98.3 601.6,98.6 602.9,98.3 603.1,97.9 603.8,97.8 604.5,97.3 605.4,95.8 607.4,87.5 607.9,87.8 609.2,92.2 609.4,92.1 609.9,92.7 610.1,92.7 610.6,91.7 610.8,91.7 611.7,89.2 612.4,87.9 612.6,86.9 613,86.6 614.8,82.9 615.5,79.5 615.9,75.9 617.5,58.8 618,56.3 618.2,56.2 618.6,58.7 620.7,84.7 621.1,88.4 622.2,94 623.1,96 623.4,96 623.6,96.6 624,96.7 624.5,97.3 625.4,97.4 625.6,97.9 625.8,97.7 627.4,98.1 627.6,98 627.9,98.6 628.1,98.2 629,98.7 629.6,98.5 629.9,98.8 630.1,98.4 630.8,98.8 631.7,98.7 632.1,99 632.3,98.8 632.6,98.9 633,98.6 633.7,99.1 634.1,99.1 634.4,98.8 634.6,99 635,99 635.5,98.8 635.7,99.1 636.2,99.1 636.4,98.9 636.6,99.1 637.3,99.2 637.7,98.7 638,99.2 638.2,98.9 638.6,99.2 639.3,99.2 639.5,98.8 639.8,99.3 640,99 640.4,99.2 640.9,99 641.5,99 641.8,99.4 642.2,98.8 642.7,99 642.9,99.3 643.1,99.1 643.6,99.2 643.8,99 644.5,99.4 644.7,99.2 645.4,99.2 645.6,98.9 645.8,99.3 646.3,99.3 646.7,98.9 647.2,99.3 647.6,99 647.8,99.3 648.1,99 648.5,99.2 649.2,99 649.4,99.3 649.6,99 649.9,99.2 650.3,99.2 651,99.4 651.7,98.9 652.3,99.3 652.8,99.2 653,99.4 653.5,99.2 653.9,99.4 654.6,99.1 654.8,99.2" />
<polyline fill="none" stroke="#eca63a" stroke-width="0.85" stroke-linejoin="round" points="390.1,141.7 390.8,141.7 391.7,141.4 392,141.9 392.2,141.7 393.1,141.7 393.3,141.5 393.8,141.8 394,141.4 394.5,141.7 394.7,141.5 395,141.7 395.2,141.5 395.6,141.7 396.8,141.6 397.3,142.1 397.5,141.6 397.7,141.9 398.2,141.4 398.6,141.6 399.8,141.7 400,141.4 400.7,141.6 401.6,141.5 402.3,141.7 402.6,141.3 402.8,141.6 403.2,141.4 403.9,141.6 404.2,141.2 404.4,141.5 405.1,141.8 405.5,141.5 406.9,141.7 407.6,141.1 408.5,142 408.8,141.6 409.2,141.4 409.9,141.5 410.4,141.3 410.6,141.6 411.1,141.7 411.3,141.3 411.8,141.4 412,141.6 412.2,141.5 413.4,141.5 413.6,141.3 414.5,141.5 414.8,141.3 415.7,141.6 415.9,141.3 416.1,141.5 416.4,141.3 416.6,141.3 416.8,141.6 417.3,141.4 417.8,141.5 418,141.2 419.1,141.4 419.6,141.2 420.3,141.4 420.8,141.2 421.2,141.3 421.7,140.9 421.9,141.2 422.4,141.1 422.6,141.5 422.8,141.1 423.1,141.2 423.3,140.9 423.8,141.2 424.7,141 424.9,141.2 425.6,140.7 426.1,140.9 426.7,140.6 427.2,140.8 428.1,140.6 428.6,140.8 428.8,140.6 429,140.7 429.3,140.4 429.7,140.5 430,140.1 430.4,140 430.9,139.5 431.1,139.8 431.4,139.4 432,138.9 432.3,138.9 432.7,138.5 433.4,137.7 434.6,135.5 436.2,130.4 438.5,121.5 439.4,119.3 439.6,119.2 439.9,119.4 440.1,118.9 441.3,121 443.8,131 444.3,132 444.5,133.2 444.7,133.4 444.9,134.3 445.2,134.5 445.6,135.9 447,138.3 447.3,138 447.5,138.6 447.9,138.9 448.2,139.3 448.9,139.5 449.3,139.5 449.6,139.8 450,139.7 450.2,140 450.5,139.9 450.7,140 450.9,139.8 451.6,140.1 452.3,139.8 452.8,140 453,139.7 453.5,139.8 453.7,139.5 453.9,139.6 454.6,139.4 455.3,138.8 455.8,138.8 456,138.4 456.2,138.5 456.9,138.1 457.2,137.6 457.6,137.8 457.8,137.3 458.1,137.4 458.3,137.2 458.5,137.5 458.8,136.8 459.7,136.3 459.9,136.4 460.2,136.2 460.4,136.5 460.8,136.2 461.3,136.6 461.5,136.5 462,136.8 462.2,136.8 462.7,137.3 462.9,137.4 463.1,137.2 463.4,137.8 463.8,137.8 464.3,138.4 465,138.7 465.5,139.2 465.7,139.1 466.4,139.7 467.1,139.9 467.3,140.3 467.5,140.2 468,140.5 468.2,140.4 468.9,140.6 469.1,140.9 470.1,140.8 470.5,141.2 471.2,140.8 471.7,141.2 471.9,141 472.4,141.4 472.6,140.8 472.8,141.2 473.5,141 473.7,141.2 474,141.1 474.4,141.5 474.7,141.1 474.9,141.1 475.8,141.5 476.1,141.2 477.4,141.3 477.7,141.6 478.1,141.1 478.4,141.5 479,141.3 479.5,141.7 479.7,141.4 480,141.6 480.4,141.4 480.7,141.5 481.1,141 481.8,141.6 483.2,141.5 483.9,141.7 484.1,141.5 484.8,141.4 485,141.6 485.3,141.4 485.5,141.7 485.7,141.2 486.4,141.7 486.6,141.5 486.9,141.8 487.3,141.5 487.8,141.6 488,141.4 488.3,141.7 488.5,141.5 489,141.7 489.2,141.5 489.4,141.7 489.6,141.3 489.9,141.7 490.1,141.3 490.3,141.7 490.6,141.5 491,141.8 491.5,141.5 491.7,141.8 491.9,141.4 492.2,141.7 492.9,141.5 493.1,141.8 493.3,141.4 494.3,141.8 494.7,141.5 495.2,141.8 495.6,141.4 495.9,141.7 496.1,141.7 496.3,141.4 497.2,141.8 498.2,141.6 498.9,141.6 499.3,141.9 499.6,141.7 500.5,141.8 501.6,141.6 502.1,141.8 502.5,141.4 502.8,141.7 503,141.5 503.5,141.4 503.7,141.7 503.9,141.4 504.4,141.7 505.3,141.7 505.5,141.5 506,141.8 506.2,141.5 506.7,141.5 506.9,141.8 507.2,141.5 507.4,141.6 507.6,141.4 507.8,141.8 508.1,141.6 508.5,141.9 509,141.5 509.5,141.7 509.7,141.5 510.2,141.5 510.4,141.8 510.8,141.5 511.3,141.8 511.8,141.4 512.2,142 513.1,141.6 513.6,141.8 514.5,141.7 514.8,141.3 515.2,141.8 515.7,141.7 515.9,141.9 516.6,141.5 517.3,141.8 518.2,141.5 518.4,141.7 518.7,141.5 519.1,141.7 519.4,141.9" />
<polyline fill="none" stroke="#eca63a" stroke-width="0.85" stroke-linejoin="round" points="525.2,142.8 525.7,142.4 526.3,142.6 526.8,142.7 527,142.4 528.4,142.7 528.6,142.3 529,142.6 529.3,142.4 529.7,142.6 529.9,142.5 530.6,142.9 530.8,142.4 531.1,142.8 531.3,142.5 531.7,142.7 532.6,142.3 533.3,142.7 533.5,142.5 535.3,142.7 535.6,142.5 535.8,142.8 536.2,142.4 536.5,143 536.9,142.5 537.1,142.8 537.4,142.2 537.6,142.9 537.8,142.4 538.9,142.7 539.1,142.5 539.4,142.7 539.8,142.4 540,142.7 540.5,142.6 540.7,142.8 540.9,142.4 541.4,142.8 541.6,142.6 542.5,142.7 542.7,142.4 543,142.7 543.2,142.4 543.4,142.6 543.6,142.5 544.3,142.7 545,142.3 545.7,142.6 546.1,142.6 546.3,142.4 546.8,142.7 547.2,142.4 547.7,142.6 547.9,142.4 548.8,142.8 549,142.4 549.3,142.7 549.9,142.5 550.6,142.8 550.8,142.6 551.1,142.8 551.3,142.5 551.7,142.6 551.9,142.3 552.2,142.5 552.8,142.6 553.3,142.4 553.5,142.7 553.7,142.4 554.9,142.7 555.1,142.3 555.5,142.8 555.8,142.5 556.4,142.9 556.9,142.5 557.8,142.5 558,142.8 558.2,142.6 558.7,142.7 559.4,142.6 559.6,142.8 560,142.3 560.5,142.8 560.9,142.5 561.4,142.7 561.6,142.4 562.1,142.7 562.7,142.4 563.9,142.4 564.3,142.8 564.5,142.4 564.7,142.7 565.6,142.6 565.9,142.3 566.1,142.9 566.5,142.2 566.8,142.5 567.4,142.3 567.7,142.7 567.9,142.5 568.8,142.4 570.4,142.7 570.6,142.3 571,142.7 571.3,142.4 571.5,142.6 571.7,142.4 572.6,142.6 573.1,142.2 573.3,142.8 573.7,142.4 574.2,142.7 574.4,142.2 574.6,142.6 574.9,142.2 575.3,142.5 576,142.3 576.7,142.5 576.9,142.3 577.3,142.6 577.8,142.4 578.4,142.6 579.1,142.3 579.3,142.5 579.6,142.2 579.8,142.5 580,142 580.9,142.9 581.6,142.2 581.8,142.6 582,142.2 582.3,142.5 582.5,142.3 582.7,142.8 582.9,142.4 583.4,142.3 583.8,142.6 584.1,142.3 585,142.3 585.6,142.6 585.9,142.2 586.5,142.5 587.4,142.5 587.7,142.1 588.3,142.5 589,142.2 589.9,142.5 590.1,142.1 590.3,142.3 590.6,142 590.8,142.4 591.2,142.2 591.7,142.5 592.8,142.1 593.7,142.2 594.6,142.1 595.1,142.3 596,141.8 596.2,142 596.6,141.8 597.1,142 597.5,141.9 597.8,142 598.2,141.7 598.4,141.9 598.7,141.5 598.9,141.8 599.6,141.7 600.2,141.2 601.1,141.4 601.8,140.7 602,140.7 602.9,139.7 603.8,137.6 606.3,124.8 606.5,125.1 606.7,125.1 608.1,129.4 608.3,129.9 608.8,130 609.2,129.6 610.8,126.2 611,125.9 611.2,126.1 611.7,125.6 612.1,125.6 612.8,124.3 613.9,117.7 615.3,106.9 615.5,105.7 615.9,105.2 616.8,110.3 618.4,126.6 619.3,133.3 620.2,137 620.9,138.7 621.3,139.1 621.8,140.1 622.2,140.1 622.5,140.4 622.7,140.3 622.9,140.8 623.1,140.6 623.4,140.9 623.6,140.7 623.8,141 624,140.9 624.5,141.4 625.2,141.5 625.4,141.3 625.6,141.3 626.1,141.7 626.5,141.8 626.7,141.5 627.6,142.1 628.3,141.8 629,142 629.2,141.8 629.4,142.1 630.1,142.1 630.8,141.8 631,142.4 631.2,142.1 632.1,142.2 632.3,142 632.6,142.3 633.5,142.2 633.7,142.1 634.6,142.4 635.3,142.3 635.7,142.4 636.2,142.2 636.4,142.6 636.6,142.1 636.8,142.3 637.3,142.2 637.7,142.4 638,142 638.2,142.5 638.6,142.2 638.9,142.5 639.5,142 639.8,142.5 640.2,142.3 640.7,142.6 640.9,142.3 641.5,142.3 642.4,142.6 642.9,142.4 643.6,142.6 644,142.1 644.2,142.5 644.7,142.5 644.9,142.3 646,142.6 646.3,142.4 646.5,142.6 646.7,142.4 647.2,142.3 647.4,142.5 647.6,142.3 647.8,142.6 648.1,142.4 648.3,142.5 649,142.4 649.2,142.8 649.4,142.4 649.6,142.7 649.9,142.3 650.1,142.8 650.5,142.7 650.8,142.3 651,142.7 651.2,142.5 651.7,142.8 652.1,142.4 653.2,142.6 653.7,142.2 654.6,142.6 654.8,142.3" />
<polyline fill="none" stroke="#2a2a2a" stroke-width="0.85" stroke-linejoin="round" points="390.1,191.4 390.8,191.3 391,191 391.3,191.6 391.5,191.2 391.7,191.1 392,191.4 392.6,191 393.1,191.4 393.6,191 394,191.5 394.3,191 394.5,191.2 394.7,191.1 395.4,191.3 395.9,191 396.1,191.5 396.6,191 397,191.4 397.3,191.2 398.6,191.2 398.9,191.3 399.6,191 400,191.2 400.9,191.1 401.2,190.9 401.9,191.2 402.3,191.1 403,191.4 403.5,191.1 403.7,191.1 403.9,191.4 404.2,191 404.4,191.2 404.9,191.1 405.5,191.5 405.8,191.3 406,191.4 406.2,191.1 406.7,191 407.2,191.2 407.9,191.1 408.3,191.3 409,191.2 409.5,190.9 410.2,191.4 410.4,191.1 410.8,191.4 411.3,191 412,191.2 412.2,191 412.5,191.3 412.9,190.8 413.2,191.1 413.8,191.3 414.3,191 414.5,191.2 415,190.9 415.2,190.9 415.5,191.3 415.9,191.3 416.1,190.9 417.1,191.2 418.2,190.9 418.9,191.3 419.1,191 420.1,191.1 420.3,190.9 421.9,191.1 422.4,190.7 422.6,190.9 422.8,190.7 423.5,191.1 424,190.6 424.2,190.8 426.1,190.7 427,190.8 427.2,190.5 427.4,191 427.9,190.3 428.4,190.7 428.8,190.4 429,190.5 429.7,190.5 430,190 430.2,190.4 430.4,190.5 431.4,190.1 431.8,190.4 432,190 432.7,190.2 433.4,189.8 433.7,189.9 433.9,189.6 434.8,189.3 435,188.9 435.3,189.3 435.5,188.8 435.7,188.8 436.2,188 436.9,187.5 437.1,186.8 438,185.6 439.2,182.9 441.7,174.4 442,174.1 442.2,172.9 442.9,171.2 443.8,169.7 444.3,170.1 444.5,169.9 444.7,170.6 444.9,170.6 445.9,173 447.3,178.2 449.8,185.4 450,185.4 450.2,185.9 450.5,185.9 450.9,187 451.9,188.2 452.1,187.9 452.6,188.6 453,188.5 453.7,189 454.4,188.9 454.9,189.2 455.1,188.9 455.3,189.1 455.5,188.8 455.8,188.9 456.2,188.6 456.9,188.7 458.1,187.5 458.3,187.6 459.5,186.7 459.7,186.2 459.9,186.2 460.2,185.8 460.4,185.8 460.6,185.2 460.8,185.2 461.1,184.8 461.3,184.9 461.8,184.1 462,184.2 462.5,184 462.7,184.2 462.9,183.8 463.1,183.8 463.4,184.1 463.6,183.9 464.5,184.8 464.8,184.6 465,185.4 465.2,185.3 465.7,186.2 465.9,186.5 466.1,186.4 466.4,186.8 466.8,187.1 467.5,188.4 467.8,188.2 468.7,189.2 468.9,188.9 469.6,189.7 470.5,190.1 470.8,190 471.4,190.3 471.7,190.1 472.1,190.8 472.8,190.4 473.5,190.7 473.7,190.6 474.4,190.8 474.7,190.7 475.1,191 475.4,190.7 475.6,190.9 476.5,190.7 477.2,191.1 477.4,190.7 477.7,190.8 477.9,190.7 478.4,191.2 478.6,190.7 478.8,190.9 479.7,190.9 480,191.2 480.2,190.8 480.7,191.1 480.9,190.8 481.6,191.3 482,191 482.5,191.2 483,191.2 483.7,190.9 483.9,191.2 484.3,191 484.6,191.1 485,190.8 485.3,191.1 486,191.1 486.2,191.3 486.9,190.8 487.8,191.2 488.3,191 488.5,191.2 488.7,191 489.2,191.4 489.9,191.3 490.1,191 490.3,191.2 491,191 491.3,191.2 491.5,191 492.2,191.1 492.4,191.4 494,191 494.5,191 494.7,191.2 495.6,191.3 495.9,191 496.3,191.3 496.8,190.9 497,191.2 497.2,191 497.5,191.3 497.9,191.3 498.4,190.9 498.6,191.4 498.9,191 499.1,191.3 499.6,191.1 500,191.2 500.2,191.4 500.5,191.2 500.7,191.4 500.9,190.8 501.2,191.2 501.6,191.4 502.1,191.4 502.3,191.1 503.2,191.3 503.5,191 503.9,191.5 504.2,191.2 504.4,191.4 504.9,191.1 505.1,191.3 505.3,191.1 505.5,191.3 505.8,191 506.7,191.3 507.2,191.1 507.4,191.4 507.6,191.1 507.8,191.4 508.3,191.5 508.5,190.9 508.8,191.2 509.2,191.3 509.5,191.1 509.7,191.5 510.2,190.9 510.4,191.3 510.8,191.1 511.1,191.4 511.5,191.1 512.2,191.3 512.9,191 513.6,191.6 513.8,191.1 514.5,191.5 515,191.1 515.2,191.4 515.9,191.1 516.6,191.3 516.8,191 517.5,191.4 518,191.2 518.2,191.4 518.4,191.1 519.4,191.2" />
<polyline fill="none" stroke="#2a2a2a" stroke-width="0.85" stroke-linejoin="round" points="525.2,192.7 525.7,192.3 525.9,192.7 526.3,192.4 527,192.8 527.7,192.4 527.9,192.6 528.1,192.4 528.4,192.7 529.5,192.4 529.7,192.7 529.9,192.4 530.2,192.6 530.6,192.6 530.8,192.8 531.1,192.6 531.7,192.5 532.4,192.8 532.6,192.6 532.9,192.7 533.5,192.5 533.8,192.8 535.1,192.4 535.8,192.7 537.4,192.5 538.5,192.7 538.7,192.5 539.4,192.6 539.6,192.2 539.8,192.7 540.3,192.5 540.5,192.7 540.9,192.3 542.5,192.6 543.4,192.4 543.6,192.7 544.1,192.1 544.8,192.5 545,192.2 545.2,192.3 545.4,192 545.7,192.1 546.1,191.5 546.3,191.8 546.6,191.3 547,191.1 547.7,190.4 547.9,190.8 548.1,190.6 548.4,190.6 549.3,191.9 549.5,191.8 549.9,192 550.2,191.8 550.4,192.2 550.8,192.2 551.1,192.6 551.9,192.4 552.2,192.5 552.4,192.2 553.1,192.6 553.5,192.4 553.7,192.7 554.6,192.3 555.1,192.6 555.3,192.5 555.5,192.6 555.8,192.5 556,192.7 556.2,192.4 556.7,192.4 557.1,192.7 557.3,192.3 557.6,192.6 557.8,192.3 558,192.5 558.5,192.3 558.7,192.5 558.9,192.3 559.1,192.7 559.4,192.4 560,192.5 560.5,192.3 560.7,192.8 561.4,192.4 561.6,192.6 562.5,192.4 563.2,192.7 563.4,192.5 563.6,192.4 563.9,192.6 564.1,192.4 564.3,192.8 565.9,192.4 566.5,192.7 566.8,192.2 567,192.9 567.4,192.3 567.9,192.7 568.6,192.4 568.8,192.7 569,192.4 569.7,192.3 570.1,192.7 570.6,192.3 571,192.5 571.3,192.2 571.5,192.7 571.7,192.4 571.9,192.6 572.6,192.3 572.8,192.7 573.3,192.7 573.5,192.4 573.7,192.6 574,192.5 574.2,192.7 574.6,192.4 574.9,192.5 575.3,192.4 575.8,192.7 576,192.4 576.4,192.4 576.7,192.8 577.1,192.8 577.5,192.4 579.1,192.5 579.3,192.8 579.8,192.3 580,192.5 580.5,192.6 580.9,192.3 581.6,192.9 581.8,192.6 582.3,192.7 582.5,192.4 582.7,192.4 582.9,192.7 583.2,192.3 583.6,192.6 583.8,192.4 584.1,192.7 584.7,192.6 585,192.3 585.2,192.6 586.3,192.3 586.8,192.6 587.2,192.4 587.4,192.5 587.9,192.2 588.1,192.5 588.6,192.2 588.8,192.5 589.2,192.5 589.5,192.3 590.1,192.4 590.3,192.2 590.8,192.6 591.5,192.2 592.4,192.6 592.6,192.3 593,192.2 593.3,192.4 593.9,192.4 594.2,192.2 594.4,192.3 594.6,192.2 594.8,192.4 595.1,192.2 595.3,192.5 596,192.1 598.2,192.1 598.7,191.9 599.3,192.1 600,191.7 600.2,191.9 600.7,191.7 600.9,191.8 601.4,191.4 602.3,191.6 602.5,191.4 603.1,191.3 604,190.6 604.5,190.6 604.9,190.1 605.8,187.9 606.5,185.3 607.9,177.8 608.3,176.7 608.8,176.7 609,177 610.1,179.2 610.3,179.4 610.8,179.2 611.5,177.8 611.7,176.8 611.9,176.7 612.4,175.7 612.6,175.7 612.8,175.5 613.7,175.4 614.2,175.1 614.6,174 615.5,169 617.1,155 617.5,153.6 618,154.7 618.2,156.5 619.8,174.3 620.9,183.5 621.8,187.2 622.9,189.7 623.1,189.7 623.6,190.4 624.3,190.4 624.7,190.7 624.9,191.2 625.4,191 626.1,191.3 626.3,191.1 627,191.6 627.2,191.3 627.4,191.7 627.9,191.4 628.1,191.8 628.3,191.7 629,191.8 629.2,191.6 629.6,191.9 629.9,191.8 630.3,192 630.5,191.7 630.8,192.1 631.2,192 631.7,192.4 631.9,191.9 632.1,192.2 633,192.3 633.5,191.8 634.1,192.4 634.4,192.2 634.6,192.4 634.8,192.1 635.9,192.5 636.2,192.2 636.4,192.5 637.5,192.2 638.2,192.3 638.4,192.2 638.6,192.6 638.9,192.3 639.3,192.5 640.2,192.2 640.4,192.7 640.9,192.1 641.3,192.2 641.8,192.6 642.4,192.3 642.7,192.5 643.1,192.4 643.3,192.7 643.8,192.2 644,192.1 644.2,192.5 644.5,192.2 645.1,192.8 645.4,192.3 645.6,192.5 645.8,192.1 646.5,192.7 646.7,192.3 647.4,192.8 647.6,192.3 648.1,192.6 648.7,192.4 649,192.5 649.2,192.2 650.1,192.9 650.5,192.4 651,192.6 651.2,192.5 651.4,192.8 651.9,192.4 652.3,192.6 652.8,192.2 653,192.6 653.2,192.4 653.7,192.8 653.9,192.4 654.8,192.6" />
<rect x="389.5" y="5.5" width="266.0" height="196.0" fill="none" stroke="#3a3a3a" stroke-width="1"/>
<line x1="395.20" y1="201.5" x2="395.20" y2="199.3" stroke="#3a3a3a" stroke-width="0.9"/>
<line x1="395.20" y1="5.5" x2="395.20" y2="7.7" stroke="#3a3a3a" stroke-width="0.9"/>
<line x1="414.40" y1="201.5" x2="414.40" y2="199.3" stroke="#3a3a3a" stroke-width="0.9"/>
<line x1="414.40" y1="5.5" x2="414.40" y2="7.7" stroke="#3a3a3a" stroke-width="0.9"/>
<line x1="433.60" y1="201.5" x2="433.60" y2="198.0" stroke="#3a3a3a" stroke-width="0.9"/>
<line x1="433.60" y1="5.5" x2="433.60" y2="9.0" stroke="#3a3a3a" stroke-width="0.9"/>
<text x="433.60" y="212.3" font-size="8" fill="#1a1a1a" color="#1a1a1a" text-anchor="middle" >22</text>
<line x1="452.80" y1="201.5" x2="452.80" y2="199.3" stroke="#3a3a3a" stroke-width="0.9"/>
<line x1="452.80" y1="5.5" x2="452.80" y2="7.7" stroke="#3a3a3a" stroke-width="0.9"/>
<line x1="472.00" y1="201.5" x2="472.00" y2="199.3" stroke="#3a3a3a" stroke-width="0.9"/>
<line x1="472.00" y1="5.5" x2="472.00" y2="7.7" stroke="#3a3a3a" stroke-width="0.9"/>
<line x1="491.20" y1="201.5" x2="491.20" y2="198.0" stroke="#3a3a3a" stroke-width="0.9"/>
<line x1="491.20" y1="5.5" x2="491.20" y2="9.0" stroke="#3a3a3a" stroke-width="0.9"/>
<text x="491.20" y="212.3" font-size="8" fill="#1a1a1a" color="#1a1a1a" text-anchor="middle" >23</text>
<line x1="510.40" y1="201.5" x2="510.40" y2="199.3" stroke="#3a3a3a" stroke-width="0.9"/>
<line x1="510.40" y1="5.5" x2="510.40" y2="7.7" stroke="#3a3a3a" stroke-width="0.9"/>
<line x1="529.34" y1="201.5" x2="529.34" y2="199.3" stroke="#3a3a3a" stroke-width="0.9"/>
<line x1="529.34" y1="5.5" x2="529.34" y2="7.7" stroke="#3a3a3a" stroke-width="0.9"/>
<line x1="538.70" y1="201.5" x2="538.70" y2="198.0" stroke="#3a3a3a" stroke-width="0.9"/>
<line x1="538.70" y1="5.5" x2="538.70" y2="9.0" stroke="#3a3a3a" stroke-width="0.9"/>
<text x="538.70" y="212.4" font-size="8.3" fill="#1a1a1a" color="#1a1a1a" text-anchor="middle" >29</text>
<line x1="548.06" y1="201.5" x2="548.06" y2="199.3" stroke="#3a3a3a" stroke-width="0.9"/>
<line x1="548.06" y1="5.5" x2="548.06" y2="7.7" stroke="#3a3a3a" stroke-width="0.9"/>
<line x1="557.41" y1="201.5" x2="557.41" y2="199.3" stroke="#3a3a3a" stroke-width="0.9"/>
<line x1="557.41" y1="5.5" x2="557.41" y2="7.7" stroke="#3a3a3a" stroke-width="0.9"/>
<line x1="566.77" y1="201.5" x2="566.77" y2="198.0" stroke="#3a3a3a" stroke-width="0.9"/>
<line x1="566.77" y1="5.5" x2="566.77" y2="9.0" stroke="#3a3a3a" stroke-width="0.9"/>
<text x="566.77" y="212.4" font-size="8.3" fill="#1a1a1a" color="#1a1a1a" text-anchor="middle" >30</text>
<line x1="576.13" y1="201.5" x2="576.13" y2="199.3" stroke="#3a3a3a" stroke-width="0.9"/>
<line x1="576.13" y1="5.5" x2="576.13" y2="7.7" stroke="#3a3a3a" stroke-width="0.9"/>
<line x1="585.48" y1="201.5" x2="585.48" y2="199.3" stroke="#3a3a3a" stroke-width="0.9"/>
<line x1="585.48" y1="5.5" x2="585.48" y2="7.7" stroke="#3a3a3a" stroke-width="0.9"/>
<line x1="594.84" y1="201.5" x2="594.84" y2="198.0" stroke="#3a3a3a" stroke-width="0.9"/>
<line x1="594.84" y1="5.5" x2="594.84" y2="9.0" stroke="#3a3a3a" stroke-width="0.9"/>
<text x="594.84" y="212.4" font-size="8.3" fill="#1a1a1a" color="#1a1a1a" text-anchor="middle" >31</text>
<line x1="604.20" y1="201.5" x2="604.20" y2="199.3" stroke="#3a3a3a" stroke-width="0.9"/>
<line x1="604.20" y1="5.5" x2="604.20" y2="7.7" stroke="#3a3a3a" stroke-width="0.9"/>
<line x1="613.55" y1="201.5" x2="613.55" y2="199.3" stroke="#3a3a3a" stroke-width="0.9"/>
<line x1="613.55" y1="5.5" x2="613.55" y2="7.7" stroke="#3a3a3a" stroke-width="0.9"/>
<line x1="622.91" y1="201.5" x2="622.91" y2="198.0" stroke="#3a3a3a" stroke-width="0.9"/>
<line x1="622.91" y1="5.5" x2="622.91" y2="9.0" stroke="#3a3a3a" stroke-width="0.9"/>
<text x="622.91" y="212.4" font-size="8.3" fill="#1a1a1a" color="#1a1a1a" text-anchor="middle" >32</text>
<line x1="632.27" y1="201.5" x2="632.27" y2="199.3" stroke="#3a3a3a" stroke-width="0.9"/>
<line x1="632.27" y1="5.5" x2="632.27" y2="7.7" stroke="#3a3a3a" stroke-width="0.9"/>
<line x1="641.62" y1="201.5" x2="641.62" y2="199.3" stroke="#3a3a3a" stroke-width="0.9"/>
<line x1="641.62" y1="5.5" x2="641.62" y2="7.7" stroke="#3a3a3a" stroke-width="0.9"/>
<line x1="650.98" y1="201.5" x2="650.98" y2="198.0" stroke="#3a3a3a" stroke-width="0.9"/>
<line x1="650.98" y1="5.5" x2="650.98" y2="9.0" stroke="#3a3a3a" stroke-width="0.9"/>
<text x="650.98" y="212.4" font-size="8.3" fill="#1a1a1a" color="#1a1a1a" text-anchor="middle" >33</text>
<line x1="389.5" y1="13.00" x2="392.1" y2="13.00" stroke="#3a3a3a" stroke-width="0.9"/>
<line x1="655.5" y1="13.00" x2="652.9" y2="13.00" stroke="#3a3a3a" stroke-width="0.9"/>
<line x1="389.5" y1="28.10" x2="392.1" y2="28.10" stroke="#3a3a3a" stroke-width="0.9"/>
<line x1="655.5" y1="28.10" x2="652.9" y2="28.10" stroke="#3a3a3a" stroke-width="0.9"/>
<line x1="389.5" y1="43.20" x2="392.1" y2="43.20" stroke="#3a3a3a" stroke-width="0.9"/>
<line x1="655.5" y1="43.20" x2="652.9" y2="43.20" stroke="#3a3a3a" stroke-width="0.9"/>
<line x1="389.5" y1="58.30" x2="392.1" y2="58.30" stroke="#3a3a3a" stroke-width="0.9"/>
<line x1="655.5" y1="58.30" x2="652.9" y2="58.30" stroke="#3a3a3a" stroke-width="0.9"/>
<line x1="389.5" y1="73.40" x2="392.1" y2="73.40" stroke="#3a3a3a" stroke-width="0.9"/>
<line x1="655.5" y1="73.40" x2="652.9" y2="73.40" stroke="#3a3a3a" stroke-width="0.9"/>
<line x1="389.5" y1="88.50" x2="392.1" y2="88.50" stroke="#3a3a3a" stroke-width="0.9"/>
<line x1="655.5" y1="88.50" x2="652.9" y2="88.50" stroke="#3a3a3a" stroke-width="0.9"/>
<line x1="389.5" y1="103.60" x2="392.1" y2="103.60" stroke="#3a3a3a" stroke-width="0.9"/>
<line x1="655.5" y1="103.60" x2="652.9" y2="103.60" stroke="#3a3a3a" stroke-width="0.9"/>
<line x1="389.5" y1="118.70" x2="392.1" y2="118.70" stroke="#3a3a3a" stroke-width="0.9"/>
<line x1="655.5" y1="118.70" x2="652.9" y2="118.70" stroke="#3a3a3a" stroke-width="0.9"/>
<line x1="389.5" y1="133.80" x2="392.1" y2="133.80" stroke="#3a3a3a" stroke-width="0.9"/>
<line x1="655.5" y1="133.80" x2="652.9" y2="133.80" stroke="#3a3a3a" stroke-width="0.9"/>
<line x1="389.5" y1="148.90" x2="392.1" y2="148.90" stroke="#3a3a3a" stroke-width="0.9"/>
<line x1="655.5" y1="148.90" x2="652.9" y2="148.90" stroke="#3a3a3a" stroke-width="0.9"/>
<line x1="389.5" y1="164.00" x2="392.1" y2="164.00" stroke="#3a3a3a" stroke-width="0.9"/>
<line x1="655.5" y1="164.00" x2="652.9" y2="164.00" stroke="#3a3a3a" stroke-width="0.9"/>
<line x1="389.5" y1="179.10" x2="392.1" y2="179.10" stroke="#3a3a3a" stroke-width="0.9"/>
<line x1="655.5" y1="179.10" x2="652.9" y2="179.10" stroke="#3a3a3a" stroke-width="0.9"/>
<line x1="389.5" y1="194.20" x2="392.1" y2="194.20" stroke="#3a3a3a" stroke-width="0.9"/>
<line x1="655.5" y1="194.20" x2="652.9" y2="194.20" stroke="#3a3a3a" stroke-width="0.9"/>
<rect x="519.5" y="4.0" width="5" height="3" fill="#fff"/>
<line x1="517.60" y1="8.80" x2="522.80" y2="2.20" stroke="#222" stroke-width="0.8"/>
<line x1="522.20" y1="8.80" x2="527.40" y2="2.20" stroke="#222" stroke-width="0.8"/>
<rect x="519.5" y="200.0" width="5" height="3" fill="#fff"/>
<line x1="517.60" y1="204.80" x2="522.80" y2="198.20" stroke="#222" stroke-width="0.8"/>
<line x1="522.20" y1="204.80" x2="527.40" y2="198.20" stroke="#222" stroke-width="0.8"/>
<text x="522.7" y="229.2" font-size="10.2" fill="#1a1a1a" color="#1a1a1a" text-anchor="middle" >2θ / °</text>
<text x="0" y="0" font-size="10.7" fill="#1a1a1a" color="#1a1a1a" text-anchor="middle" transform="translate(378.2,104.2) rotate(-90)">Intensity / a.u.</text>
<text x="347.7" y="24.5" font-size="18.5" fill="#111" color="#111" text-anchor="start" letter-spacing="0.2" style="stroke:none">(b)</text>
<text x="403" y="20" font-size="8.2" fill="#dc7d45" color="#dc7d45" text-anchor="start" >22.003°</text>
<text x="467.8" y="35.3" font-size="8.2" fill="#dc7d45" color="#dc7d45" text-anchor="start" >22.32°</text>
<text x="511.6" y="29.4" font-size="9.3" fill="#dc7d45" color="#dc7d45" text-anchor="start" >KNN<tspan font-size="5.6" dy="3">ex</tspan></text>
<text x="512" y="44" font-size="6.3" fill="#dc7d45" color="#dc7d45" text-anchor="start" >+ 3rd calcination</text>
<text x="551.8" y="25" font-size="8.2" fill="#222" color="#222" text-anchor="start" >29.32°</text>
<text x="580.3" y="41.2" font-size="8.2" fill="#dc7d45" color="#dc7d45" text-anchor="start" >31.3°</text>
<text x="626.8" y="23.9" font-size="8.2" fill="#dc7d45" color="#dc7d45" text-anchor="start" >31.63°</text>
<text x="511.6" y="82.6" font-size="9.3" fill="#3a86c8" color="#3a86c8" text-anchor="start" >KNN<tspan font-size="5.6" dy="3">ex</tspan></text>
<text x="512.7" y="123.3" font-size="9.3" fill="#eca63a" color="#eca63a" text-anchor="start" >KNN</text>
<text x="512.7" y="135.8" font-size="6.3" fill="#eca63a" color="#eca63a" text-anchor="start" >+ 3rd calcination</text>
<text x="512.7" y="166" font-size="9.3" fill="#222" color="#222" text-anchor="start" >KNN</text>
<text x="409.4" y="172" font-size="8.2" fill="#222" color="#222" text-anchor="start" >22.18°</text>
<text x="468" y="178" font-size="8.2" fill="#222" color="#222" text-anchor="start" >22.51°</text>
<text x="583.8" y="180.6" font-size="8.2" fill="#222" color="#222" text-anchor="start" >31.5°</text>
<text x="625.7" y="160.3" font-size="8.2" fill="#222" color="#222" text-anchor="start" >31.8°</text>
<polyline fill="none" stroke="#efb43e" stroke-width="1.0" stroke-linejoin="round" points="234,333.2 284.2,333.2 311.5,332.9 328,332.2 333.5,331.7 338,331 341.5,330 344.2,328.8 346.5,327.3 348.8,325.2 350.8,322.7 352.5,319.9 358.8,307.3 360,305.8 360.8,305.3 361.2,305.3 362.2,305.9 363.2,307.4 368.2,319.7 369.8,322.6 371.5,325.3 373.5,327.6 375.5,329.1 377.8,330.3 380.8,331.2 384.5,332 389.5,332.6 404,333.3 428.2,333.8 474.2,334.1" />
<polyline fill="none" stroke="#2aa58a" stroke-width="1.0" stroke-linejoin="round" points="234,333.2 287,333.2 315,332.9 331.5,332.2 337.2,331.6 341.8,330.8 345,329.8 347.8,328.4 350,326.8 352.2,324.3 354.2,321.3 356,318 361.8,304.2 363,302.3 364,301.8 364.5,301.9 365,302.2 366.2,304.1 371.8,318.2 373.2,321.3 375,324.1 377,326.5 379,328.3 381.5,329.7 384.2,330.7 388,331.6 393,332.3 399.2,332.8 407.2,333.2 430.8,333.7 474.2,334.1" />
<polyline fill="none" stroke="#62c0e6" stroke-width="1.0" stroke-linejoin="round" points="234,333.2 291,333.3 320.2,333 337.2,332.3 343,331.7 347.5,330.9 350.8,329.9 353.5,328.6 356,326.6 358,324.3 359.8,321.6 361.5,318 367,303.5 368.2,301.4 369.2,300.8 369.8,300.9 370.2,301.4 371.2,303.2 376.2,317.7 377.8,321.2 379.2,323.9 381,326.3 383,328.2 385.2,329.7 388,330.8 391.5,331.6 396.2,332.3 402.2,332.9 409.8,333.2 432.2,333.7 474.2,334.1" />
<polyline fill="none" stroke="#dc8cc8" stroke-width="1.0" stroke-linejoin="round" points="234,333.3 306.8,333.4 336,333.2 344.5,332.8 350.5,332.2 354.8,331.3 358,330 359.2,329.1 360.5,328 362.2,325.4 363.5,322.2 364.8,316.7 365.8,309.7 366.8,299.8 369.5,262.2 370,258.3 370.2,257.5 370.5,257.4 371,259.5 371.5,264.1 374.5,303.5 376,315.5 377,320.4 378.2,324.3 379.8,327 380.8,328.2 382,329.3 384.8,330.8 388.5,331.9 393.5,332.7 400.2,333.2 423,333.8 474.2,334.1" />
<polyline fill="none" stroke="#3a86c8" stroke-width="1.0" stroke-linejoin="round" points="234,333.2 308.8,333.4 341.2,333 350.8,332.6 357.8,332 363,331 367,329.7 370,327.8 371.2,326.5 372.5,324.9 373.5,323.2 374.5,320.8 376,315.8 377.2,309.5 378.5,300.8 382,267.6 382.8,263.6 383,263 383.2,262.9 383.5,263.1 384,264.2 384.8,267.7 388.8,298 390,305.7 391.5,312.7 393,317.8 394.8,321.9 396.8,324.9 399,327.1 402.2,329.1 406.2,330.6 411.2,331.6 417.8,332.4 426,333 437.2,333.4 474.2,334" />
<polyline fill="none" stroke="#e07f45" stroke-width="1.0" stroke-linejoin="round" points="234,333 271.8,332.9 294.5,332.3 302.8,331.9 309.2,331.2 314.5,330.4 318.5,329.4 321.8,328.1 324.5,326.5 327,324.5 329.2,322.1 331.5,319.1 333.8,315.3 341,300.9 342.8,298.6 343.8,298 344.5,297.8 345,297.9 345.8,298.5 347,300.5 353.2,316.4 355,320 357,323.3 359.2,326 361.5,327.9 364.2,329.5 367.5,330.6 371.8,331.5 377.5,332.3 384.8,332.8 394.2,333.3 422.2,333.8 474.2,334.3" />
<polyline fill="none" stroke="#efb43e" stroke-width="1.0" stroke-linejoin="round" points="234,356.9 261.2,357.3 278.8,357.9 290,358.9 293.8,359.5 297,360.4 299.5,361.5 301.8,362.8 304,364.5 306,366.5 308,368.9 310,371.8 315.8,381.8 317.5,384.6 319.2,386.5 320.2,387 321,387.2 321.5,387 322,386.6 323,384.9 328,370.4 329.5,366.8 331.2,363.7 333,361.5 335,359.9 337.5,358.6 340.5,357.8 344.8,357.1 350.5,356.6 368.5,356.1 402,355.8 474.2,355.7" />
<polyline fill="none" stroke="#2aa58a" stroke-width="1.0" stroke-linejoin="round" points="234,356.9 265,357.3 284.5,358 291.5,358.4 297,359 301.5,359.8 305,360.8 308,362 310.5,363.5 312.8,365.3 315,367.5 317.2,370.3 319.5,373.7 327.2,387.1 329.2,389.4 330.2,390 331.2,390.2 332,389.9 333,387.8 337.5,371.1 338.8,367.4 340.2,364.2 341.8,361.9 343.5,360.2 345.8,358.9 348.5,358 352.5,357.3 357.8,356.8 374.2,356.3 405.5,356 474.2,355.9" />
<polyline fill="none" stroke="#62c0e6" stroke-width="1.0" stroke-linejoin="round" points="234,356.9 264.8,357.3 284.2,357.9 296.8,358.9 301.2,359.7 304.8,360.6 307.5,361.7 310,363 312.2,364.7 314.5,366.8 316.8,369.4 319,372.5 325.2,382.9 327,385.5 329,387.5 330,388.1 331,388.2 331.8,387.7 332.8,385.5 337,370.5 338.2,367 339.8,363.9 341.2,361.7 343,360 345.2,358.8 348,357.9 352,357.3 357.2,356.8 373.8,356.2 405,356 474.2,355.9" />
<polyline fill="none" stroke="#dc8cc8" stroke-width="1.0" stroke-linejoin="round" points="234,356.7 286.5,356.8 309,357.3 315.8,357.7 320.5,358.5 324,359.5 326.5,360.9 328.2,362.8 329.8,365.9 330.8,369.6 331.8,375.5 332.8,384.5 333.5,393.6 336,431.8 336.5,436.9 337,439.2 337.2,439.1 337.5,438.2 338,434.1 341,389.5 341.8,381.2 342.8,373.1 343.8,367.9 345,364.1 346.5,361.6 347.5,360.6 348.8,359.7 351.8,358.4 356,357.4 361.8,356.8 370.2,356.4 399.5,356 474.2,355.9" />
<polyline fill="none" stroke="#3a86c8" stroke-width="1.0" stroke-linejoin="round" points="234,356.7 287.8,356.8 312.5,357.3 320.2,357.7 325.8,358.3 330,359.2 333.2,360.4 335.8,362.2 337.5,364.4 339,367.7 340.2,372.1 341.5,378.3 342.5,384.9 345.8,411.5 346.5,415.3 347,416.2 347.2,416.2 347.8,415.4 348.8,411.3 352.8,383.9 354,377.2 355.5,371.2 357,367 358.8,363.8 360.8,361.6 363.5,359.9 367.2,358.6 372,357.7 378.5,357.1 387,356.6 414.8,356.2 474.2,356" />
<polyline fill="none" stroke="#e07f45" stroke-width="1.0" stroke-linejoin="round" points="234,357.7 255,358.1 268,358.9 272.5,359.4 276,360.1 278.5,360.9 280.8,362.1 282.5,363.6 284,365.4 285.5,367.9 286.8,370.5 289.5,378.5 294.8,397.9 296,400.8 296.8,401.6 297.2,401.7 297.8,401.4 298.2,400.8 299.5,397.8 305.2,375.6 306.8,370.9 308.5,366.7 310.5,363.3 312.5,361.1 315,359.5 318.2,358.3 323,357.4 329.5,356.8 338,356.4 349.8,356.1 388.5,355.8 474.2,355.6" />
<rect x="233.5" y="249.5" width="241.3" height="195.0" fill="none" stroke="#3a3a3a" stroke-width="1"/>
<line x1="237.58" y1="444.5" x2="237.58" y2="442.2" stroke="#3a3a3a" stroke-width="0.9"/>
<line x1="237.58" y1="249.5" x2="237.58" y2="251.8" stroke="#3a3a3a" stroke-width="0.9"/>
<line x1="255.75" y1="444.5" x2="255.75" y2="440.8" stroke="#3a3a3a" stroke-width="0.9"/>
<line x1="255.75" y1="249.5" x2="255.75" y2="253.2" stroke="#3a3a3a" stroke-width="0.9"/>
<text x="255.75" y="455.4" font-size="8.4" fill="#1a1a1a" color="#1a1a1a" text-anchor="middle" >395</text>
<line x1="273.93" y1="444.5" x2="273.93" y2="442.2" stroke="#3a3a3a" stroke-width="0.9"/>
<line x1="273.93" y1="249.5" x2="273.93" y2="251.8" stroke="#3a3a3a" stroke-width="0.9"/>
<line x1="292.10" y1="444.5" x2="292.10" y2="440.8" stroke="#3a3a3a" stroke-width="0.9"/>
<line x1="292.10" y1="249.5" x2="292.10" y2="253.2" stroke="#3a3a3a" stroke-width="0.9"/>
<text x="292.10" y="455.4" font-size="8.4" fill="#1a1a1a" color="#1a1a1a" text-anchor="middle" >400</text>
<line x1="310.28" y1="444.5" x2="310.28" y2="442.2" stroke="#3a3a3a" stroke-width="0.9"/>
<line x1="310.28" y1="249.5" x2="310.28" y2="251.8" stroke="#3a3a3a" stroke-width="0.9"/>
<line x1="328.45" y1="444.5" x2="328.45" y2="440.8" stroke="#3a3a3a" stroke-width="0.9"/>
<line x1="328.45" y1="249.5" x2="328.45" y2="253.2" stroke="#3a3a3a" stroke-width="0.9"/>
<text x="328.45" y="455.4" font-size="8.4" fill="#1a1a1a" color="#1a1a1a" text-anchor="middle" >405</text>
<line x1="346.62" y1="444.5" x2="346.62" y2="442.2" stroke="#3a3a3a" stroke-width="0.9"/>
<line x1="346.62" y1="249.5" x2="346.62" y2="251.8" stroke="#3a3a3a" stroke-width="0.9"/>
<line x1="364.80" y1="444.5" x2="364.80" y2="440.8" stroke="#3a3a3a" stroke-width="0.9"/>
<line x1="364.80" y1="249.5" x2="364.80" y2="253.2" stroke="#3a3a3a" stroke-width="0.9"/>
<text x="364.80" y="455.4" font-size="8.4" fill="#1a1a1a" color="#1a1a1a" text-anchor="middle" >410</text>
<line x1="382.98" y1="444.5" x2="382.98" y2="442.2" stroke="#3a3a3a" stroke-width="0.9"/>
<line x1="382.98" y1="249.5" x2="382.98" y2="251.8" stroke="#3a3a3a" stroke-width="0.9"/>
<line x1="401.15" y1="444.5" x2="401.15" y2="440.8" stroke="#3a3a3a" stroke-width="0.9"/>
<line x1="401.15" y1="249.5" x2="401.15" y2="253.2" stroke="#3a3a3a" stroke-width="0.9"/>
<text x="401.15" y="455.4" font-size="8.4" fill="#1a1a1a" color="#1a1a1a" text-anchor="middle" >415</text>
<line x1="419.33" y1="444.5" x2="419.33" y2="442.2" stroke="#3a3a3a" stroke-width="0.9"/>
<line x1="419.33" y1="249.5" x2="419.33" y2="251.8" stroke="#3a3a3a" stroke-width="0.9"/>
<line x1="437.50" y1="444.5" x2="437.50" y2="440.8" stroke="#3a3a3a" stroke-width="0.9"/>
<line x1="437.50" y1="249.5" x2="437.50" y2="253.2" stroke="#3a3a3a" stroke-width="0.9"/>
<text x="437.50" y="455.4" font-size="8.4" fill="#1a1a1a" color="#1a1a1a" text-anchor="middle" >420</text>
<line x1="455.68" y1="444.5" x2="455.68" y2="442.2" stroke="#3a3a3a" stroke-width="0.9"/>
<line x1="455.68" y1="249.5" x2="455.68" y2="251.8" stroke="#3a3a3a" stroke-width="0.9"/>
<line x1="473.85" y1="444.5" x2="473.85" y2="440.8" stroke="#3a3a3a" stroke-width="0.9"/>
<line x1="473.85" y1="249.5" x2="473.85" y2="253.2" stroke="#3a3a3a" stroke-width="0.9"/>
<text x="473.85" y="455.4" font-size="8.4" fill="#1a1a1a" color="#1a1a1a" text-anchor="middle" >425</text>
<line x1="233.5" y1="333.30" x2="237.2" y2="333.30" stroke="#3a3a3a" stroke-width="0.9"/>
<line x1="474.8" y1="333.30" x2="471.1" y2="333.30" stroke="#3a3a3a" stroke-width="0.9"/>
<text x="228.8" y="336.10" font-size="8.5" fill="#1a1a1a" color="#1a1a1a" text-anchor="end" >0.2</text>
<line x1="233.5" y1="322.60" x2="235.8" y2="322.60" stroke="#3a3a3a" stroke-width="0.9"/>
<line x1="474.8" y1="322.60" x2="472.5" y2="322.60" stroke="#3a3a3a" stroke-width="0.9"/>
<line x1="233.5" y1="311.90" x2="237.2" y2="311.90" stroke="#3a3a3a" stroke-width="0.9"/>
<line x1="474.8" y1="311.90" x2="471.1" y2="311.90" stroke="#3a3a3a" stroke-width="0.9"/>
<text x="228.8" y="314.70" font-size="8.5" fill="#1a1a1a" color="#1a1a1a" text-anchor="end" >0.3</text>
<line x1="233.5" y1="301.20" x2="235.8" y2="301.20" stroke="#3a3a3a" stroke-width="0.9"/>
<line x1="474.8" y1="301.20" x2="472.5" y2="301.20" stroke="#3a3a3a" stroke-width="0.9"/>
<line x1="233.5" y1="290.50" x2="237.2" y2="290.50" stroke="#3a3a3a" stroke-width="0.9"/>
<line x1="474.8" y1="290.50" x2="471.1" y2="290.50" stroke="#3a3a3a" stroke-width="0.9"/>
<text x="228.8" y="293.30" font-size="8.5" fill="#1a1a1a" color="#1a1a1a" text-anchor="end" >0.4</text>
<line x1="233.5" y1="279.80" x2="235.8" y2="279.80" stroke="#3a3a3a" stroke-width="0.9"/>
<line x1="474.8" y1="279.80" x2="472.5" y2="279.80" stroke="#3a3a3a" stroke-width="0.9"/>
<line x1="233.5" y1="269.10" x2="237.2" y2="269.10" stroke="#3a3a3a" stroke-width="0.9"/>
<line x1="474.8" y1="269.10" x2="471.1" y2="269.10" stroke="#3a3a3a" stroke-width="0.9"/>
<text x="228.8" y="271.90" font-size="8.5" fill="#1a1a1a" color="#1a1a1a" text-anchor="end" >0.5</text>
<line x1="233.5" y1="258.40" x2="235.8" y2="258.40" stroke="#3a3a3a" stroke-width="0.9"/>
<line x1="474.8" y1="258.40" x2="472.5" y2="258.40" stroke="#3a3a3a" stroke-width="0.9"/>
<line x1="233.5" y1="435.95" x2="235.8" y2="435.95" stroke="#3a3a3a" stroke-width="0.9"/>
<line x1="474.8" y1="435.95" x2="472.5" y2="435.95" stroke="#3a3a3a" stroke-width="0.9"/>
<line x1="233.5" y1="425.00" x2="237.2" y2="425.00" stroke="#3a3a3a" stroke-width="0.9"/>
<line x1="474.8" y1="425.00" x2="471.1" y2="425.00" stroke="#3a3a3a" stroke-width="0.9"/>
<text x="228.8" y="427.80" font-size="8.5" fill="#1a1a1a" color="#1a1a1a" text-anchor="end" >-0.5</text>
<line x1="233.5" y1="414.05" x2="235.8" y2="414.05" stroke="#3a3a3a" stroke-width="0.9"/>
<line x1="474.8" y1="414.05" x2="472.5" y2="414.05" stroke="#3a3a3a" stroke-width="0.9"/>
<line x1="233.5" y1="403.10" x2="237.2" y2="403.10" stroke="#3a3a3a" stroke-width="0.9"/>
<line x1="474.8" y1="403.10" x2="471.1" y2="403.10" stroke="#3a3a3a" stroke-width="0.9"/>
<text x="228.8" y="405.90" font-size="8.5" fill="#1a1a1a" color="#1a1a1a" text-anchor="end" >-0.4</text>
<line x1="233.5" y1="392.15" x2="235.8" y2="392.15" stroke="#3a3a3a" stroke-width="0.9"/>
<line x1="474.8" y1="392.15" x2="472.5" y2="392.15" stroke="#3a3a3a" stroke-width="0.9"/>
<line x1="233.5" y1="381.20" x2="237.2" y2="381.20" stroke="#3a3a3a" stroke-width="0.9"/>
<line x1="474.8" y1="381.20" x2="471.1" y2="381.20" stroke="#3a3a3a" stroke-width="0.9"/>
<text x="228.8" y="384.00" font-size="8.5" fill="#1a1a1a" color="#1a1a1a" text-anchor="end" >-0.3</text>
<line x1="233.5" y1="370.25" x2="235.8" y2="370.25" stroke="#3a3a3a" stroke-width="0.9"/>
<line x1="474.8" y1="370.25" x2="472.5" y2="370.25" stroke="#3a3a3a" stroke-width="0.9"/>
<line x1="233.5" y1="359.30" x2="237.2" y2="359.30" stroke="#3a3a3a" stroke-width="0.9"/>
<line x1="474.8" y1="359.30" x2="471.1" y2="359.30" stroke="#3a3a3a" stroke-width="0.9"/>
<text x="228.8" y="362.10" font-size="8.5" fill="#1a1a1a" color="#1a1a1a" text-anchor="end" >-0.2</text>
<rect x="232.0" y="345.5" width="3" height="3.6" fill="#fff"/>
<line x1="230.30" y1="347.10" x2="236.70" y2="343.90" stroke="#222" stroke-width="0.8"/>
<line x1="230.30" y1="350.70" x2="236.70" y2="347.50" stroke="#222" stroke-width="0.8"/>
<rect x="473.3" y="345.5" width="3" height="3.6" fill="#fff"/>
<line x1="471.60" y1="347.10" x2="478.00" y2="343.90" stroke="#222" stroke-width="0.8"/>
<line x1="471.60" y1="350.70" x2="478.00" y2="347.50" stroke="#222" stroke-width="0.8"/>
<text x="354.6" y="471.0" font-size="10.2" fill="#1a1a1a" color="#1a1a1a" text-anchor="middle" >Temperature / °C</text>
<text x="0" y="0" font-size="9.9" fill="#222" color="#222" text-anchor="middle" transform="translate(204.3,343.2) rotate(-90)">Heat Flow / mW·mg<tspan font-size="6.6" dy="-3.6">-1</tspan></text>
<text x="169.6" y="268.5" font-size="18.5" fill="#111" color="#111" text-anchor="start" letter-spacing="0.8" style="stroke:none">(c)</text>
<line x1="244.8" y1="260.6" x2="244.8" y2="275.6" stroke="#222" stroke-width="0.7"/>
<polygon points="244.8,275.6 243.20,271.10 246.40,271.10" fill="#222"/>
<text x="248.6" y="270.2" font-size="10" fill="#222" color="#222" text-anchor="start" >exo</text>
<line x1="241.2" y1="325.4" x2="283.8" y2="325.4" stroke="#222" stroke-width="0.7"/>
<polygon points="283.8,325.4 279.30,327.00 279.30,323.80" fill="#222"/>
<text x="244.0" y="319.6" font-size="10.9" fill="#222" color="#222" text-anchor="start" >heating</text>
<line x1="465.0" y1="364.3" x2="426.4" y2="364.3" stroke="#222" stroke-width="0.7"/>
<polygon points="426.4,364.3 430.90,362.70 430.90,365.90" fill="#222"/>
<text x="430.2" y="378.9" font-size="10.9" fill="#222" color="#222" text-anchor="start" >cooling</text>
<text x="343.0" y="269.10" font-size="6.6" fill="#dc8cc8" color="#dc8cc8" text-anchor="start" >KNN<tspan font-size="5.4" dy="2.1">ex</tspan></text>
<text x="388.6" y="278.90" font-size="6.6" fill="#3a86c8" color="#3a86c8" text-anchor="start" >KNN<tspan font-size="5.4" dy="2.1">ex</tspan></text>
<text x="311.8" y="307.60" font-size="6.6" fill="#e07f45" color="#e07f45" text-anchor="start" >KNN<tspan font-size="5.4" dy="2.1">ex</tspan></text>
<text x="346.0" y="303.80" font-size="6.6" fill="#efb43e" color="#efb43e" text-anchor="start" >KNN</text>
<text x="355.2" y="296.90" font-size="6.6" fill="#2aa58a" color="#2aa58a" text-anchor="start" >KNN</text>
<text x="370.6" y="299.50" font-size="6.6" fill="#62c0e6" color="#62c0e6" text-anchor="start" >KNN</text>
</svg>
</body></html>
